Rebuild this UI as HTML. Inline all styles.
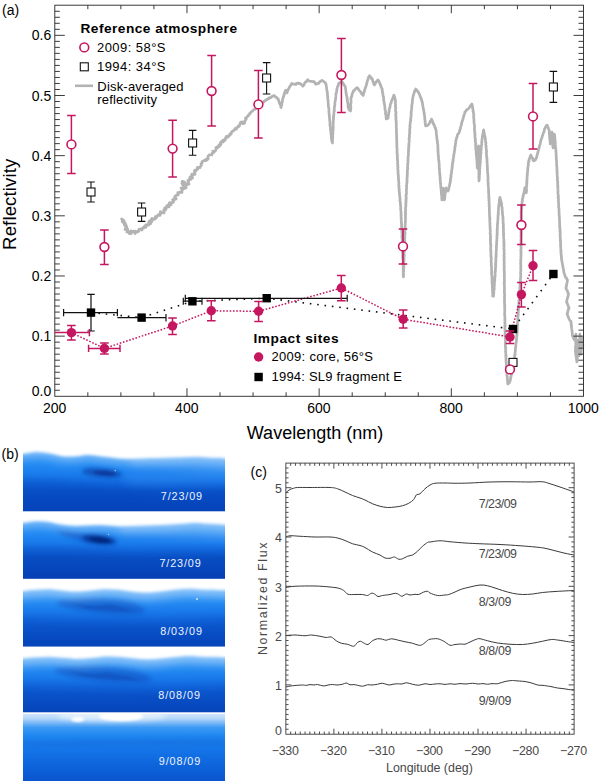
<!DOCTYPE html>
<html><head><meta charset="utf-8"><title>Figure</title>
<style>
html,body{margin:0;padding:0;background:#fff;}
body{width:600px;height:781px;position:relative;overflow:hidden;font-family:"Liberation Sans",sans-serif;}
</style></head><body>
<svg width="600" height="781" viewBox="0 0 600 781" style="position:absolute;left:0;top:0">
<defs>
<linearGradient id="gP1" gradientUnits="userSpaceOnUse" x1="0" y1="450" x2="0" y2="512">
  <stop offset="0" stop-color="#56a8f7"/><stop offset="0.1" stop-color="#2c92f5"/><stop offset="0.26" stop-color="#2088f2"/><stop offset="0.42" stop-color="#1a7bec"/><stop offset="0.55" stop-color="#1267dd"/><stop offset="0.66" stop-color="#0c56cd"/><stop offset="0.82" stop-color="#0a4cc4"/><stop offset="1" stop-color="#0844b9"/>
</linearGradient>
<linearGradient id="gP2" gradientUnits="userSpaceOnUse" x1="0" y1="518" x2="0" y2="579">
  <stop offset="0" stop-color="#56a8f7"/><stop offset="0.1" stop-color="#2c92f5"/><stop offset="0.26" stop-color="#2088f2"/><stop offset="0.42" stop-color="#1a7bec"/><stop offset="0.55" stop-color="#1267dd"/><stop offset="0.66" stop-color="#0c56cd"/><stop offset="0.82" stop-color="#0a4cc4"/><stop offset="1" stop-color="#0844b9"/>
</linearGradient>
<linearGradient id="gP3" gradientUnits="userSpaceOnUse" x1="0" y1="586" x2="0" y2="647">
  <stop offset="0" stop-color="#5aaaf7"/><stop offset="0.1" stop-color="#3397f5"/><stop offset="0.26" stop-color="#238af2"/><stop offset="0.42" stop-color="#1a7aeb"/><stop offset="0.56" stop-color="#1368de"/><stop offset="0.7" stop-color="#0d58cf"/><stop offset="0.85" stop-color="#0a4dc5"/><stop offset="1" stop-color="#0845ba"/>
</linearGradient>
<linearGradient id="gP4" gradientUnits="userSpaceOnUse" x1="0" y1="653" x2="0" y2="713">
  <stop offset="0" stop-color="#5aaaf7"/><stop offset="0.1" stop-color="#3397f5"/><stop offset="0.26" stop-color="#238af2"/><stop offset="0.42" stop-color="#1a7aeb"/><stop offset="0.56" stop-color="#1368de"/><stop offset="0.7" stop-color="#0d58cf"/><stop offset="0.85" stop-color="#0a4dc5"/><stop offset="1" stop-color="#0845ba"/>
</linearGradient>
<linearGradient id="gP5" gradientUnits="userSpaceOnUse" x1="0" y1="714" x2="0" y2="781">
  <stop offset="0" stop-color="#cfe6fc"/><stop offset="0.07" stop-color="#b2d6fa"/><stop offset="0.13" stop-color="#7cbaf7"/><stop offset="0.2" stop-color="#3d9af4"/><stop offset="0.32" stop-color="#2088f1"/><stop offset="0.55" stop-color="#1474e7"/><stop offset="0.8" stop-color="#0d62d9"/><stop offset="1" stop-color="#0a55cd"/>
</linearGradient>
<filter id="b1" x="-20%" y="-50%" width="140%" height="200%"><feGaussianBlur stdDeviation="1.2"/></filter>
<filter id="bl" x="-10%" y="-60%" width="120%" height="220%"><feGaussianBlur stdDeviation="1.6"/></filter>
<filter id="bh" x="-10%" y="-60%" width="120%" height="220%"><feGaussianBlur stdDeviation="4"/></filter>
<filter id="b2" x="-30%" y="-80%" width="160%" height="260%"><feGaussianBlur stdDeviation="2.2"/></filter>
<filter id="b4" x="-30%" y="-80%" width="160%" height="260%"><feGaussianBlur stdDeviation="5"/></filter>
<clipPath id="cp1"><rect x="23" y="444" width="202" height="67.3"/></clipPath>
<clipPath id="cp2"><rect x="23" y="514" width="202" height="64.8"/></clipPath>
<clipPath id="cp3"><rect x="23" y="582" width="202" height="64.6"/></clipPath>
<clipPath id="cp4"><rect x="23" y="649" width="202" height="63.2"/></clipPath>
<clipPath id="cp5"><rect x="23" y="714" width="202" height="67"/></clipPath>

</defs>
<rect width="600" height="781" fill="#fff"/>
<polyline points="121.6,219.0 122.5,219.5 123.4,219.9 122.2,221.4 124.3,221.2 123.2,222.6 124.1,223.1 125.4,223.3 124.3,224.7 126.0,224.8 125.1,226.1 126.5,226.3 126.7,227.1 126.0,228.2 125.0,229.4 127.4,228.6 127.7,229.3 127.2,230.8 126.9,232.1 128.3,231.7 129.2,231.8 129.4,233.7 130.8,230.8 131.0,233.6 132.1,231.9 132.7,231.3 133.4,231.2 134.2,231.8 135.1,233.5 135.4,231.1 136.6,232.2 137.4,232.2 137.9,231.1 138.8,231.3 138.8,229.4 139.6,229.0 140.6,229.1 142.0,230.0 142.0,228.8 142.4,228.0 143.6,228.2 143.9,227.4 144.1,226.5 145.8,227.3 146.2,226.5 145.7,224.8 147.0,225.2 147.5,224.6 148.8,225.0 149.1,224.1 148.6,222.5 150.8,223.7 149.4,221.0 150.6,221.3 151.9,221.6 151.1,219.6 152.4,220.0 152.0,218.3 153.9,219.4 154.7,219.2 154.8,218.2 156.1,218.4 155.4,216.5 156.8,217.0 157.1,216.2 157.6,215.7 157.9,214.9 159.3,215.5 160.1,215.4 159.8,213.6 160.8,213.7 160.3,211.6 162.1,212.9 162.7,212.3 164.0,212.9 164.3,211.8 163.7,209.9 164.5,209.7 165.7,209.9 164.8,207.8 166.3,208.4 166.3,207.2 166.4,206.6 166.7,206.0 169.0,206.9 167.8,205.0 168.6,204.7 169.4,204.4 171.1,204.9 169.4,202.7 170.9,202.9 171.6,202.5 172.9,202.7 173.2,202.0 173.7,201.5 172.6,199.8 173.4,199.5 173.7,198.8 175.5,199.3 176.2,198.9 174.6,196.7 175.2,196.2 175.9,195.7 176.4,195.2 177.5,195.2 178.2,194.8 177.9,193.6 177.8,192.5 179.3,192.8 179.7,192.2 180.6,192.1 182.0,192.5 181.9,191.4 182.0,190.5 182.5,189.9 182.8,189.2 181.0,188.2 183.7,187.9 183.4,187.2 183.8,186.5 183.7,185.8 182.6,184.9 182.7,184.2 181.9,183.4 183.7,183.0 182.1,182.0 182.2,181.3 184.5,182.0 184.8,182.7 184.4,183.5 185.4,184.0 185.7,184.7 185.4,185.5 185.7,186.1 185.1,187.0 186.3,187.5 183.9,188.7 185.6,188.0 184.7,186.7 185.3,186.2 185.9,185.6 186.3,185.0 186.0,184.0 188.3,184.4 189.0,184.0 188.0,182.6 188.5,182.0 187.8,180.7 188.3,180.2 189.2,179.9 189.4,179.1 191.2,179.4 189.9,177.8 190.0,177.0 192.6,177.8 191.9,176.6 191.4,175.4 192.7,175.4 191.9,174.0 193.4,174.2 194.9,174.3 195.0,173.5 195.0,172.7 194.3,171.4 194.9,171.0 194.8,170.1 196.6,170.4 196.6,169.5 197.6,169.4 197.2,168.0 197.4,167.3 199.1,167.8 200.0,167.6 200.2,166.8 200.6,166.1 201.1,165.6 201.5,164.9 201.0,163.5 202.0,163.5 202.2,162.7 202.1,161.6 202.6,161.1 203.6,161.0 204.1,160.4 205.4,160.7 206.3,160.6 205.9,159.2 207.3,159.6 207.9,159.2 208.3,158.6 207.8,157.1 208.0,156.3 208.5,155.8 209.0,155.3 209.5,154.8 210.7,155.0 211.7,154.9 212.1,154.3 212.0,153.2 212.8,153.0 213.5,152.7 212.8,151.0 214.3,151.5 215.2,151.2 215.5,150.4 215.9,149.8 216.0,148.8 215.9,147.7 217.5,148.0 217.2,146.8 218.5,146.8 219.3,146.6 218.8,145.1 219.3,144.6 220.7,144.9 220.9,144.0 220.5,142.6 220.9,142.0 221.5,141.5 223.1,142.1 223.5,141.5 223.0,140.0 224.5,140.5 225.2,140.2 225.2,139.2 225.3,138.3 226.1,138.1 226.0,137.0 226.3,136.3 228.2,137.2 228.3,136.2 228.7,135.5 229.8,135.5 229.7,134.3 230.8,134.4 231.3,133.8 231.1,132.4 231.7,132.0 232.3,131.5 232.8,130.9 233.8,130.8 234.0,129.9 234.8,129.5 235.0,128.6 236.5,129.1 236.3,127.9 236.9,127.5 237.6,127.1 238.5,126.9 238.4,125.8 239.5,125.9 239.5,124.8 240.0,124.3 240.5,123.8 240.4,122.7 241.4,122.7 241.6,121.9 243.1,122.2 243.0,123.7 244.3,123.4 244.2,123.1 244.8,122.6 244.8,121.8 244.7,121.1 245.3,120.5 245.6,119.9 246.2,119.3 245.4,118.3 246.5,117.9 246.6,117.1 247.1,116.5 248.1,116.3 248.2,115.5 248.7,114.9 249.4,114.4 250.0,114.0 249.9,113.0 250.7,112.6 251.1,112.0 251.7,111.5 252.5,111.2 252.8,110.5 253.5,110.0 254.0,109.5 255.0,109.4 255.3,108.7 256.0,108.4 256.7,107.9 256.7,106.8 257.5,106.6 258.4,106.4 258.8,105.9 258.9,104.8 259.4,104.3 260.3,104.2 260.7,103.6 261.3,103.3 261.8,102.7 262.6,102.7 263.3,102.3 263.9,102.0 264.1,101.1 265.0,101.0 265.5,100.5 265.8,99.8 266.8,99.9 267.5,99.5 267.9,98.6 268.9,98.7 269.3,97.8 270.0,97.5 270.9,97.6 271.5,97.1 271.9,96.3 272.6,96.2 273.3,95.9 273.9,95.5 274.7,95.9 275.2,96.5 275.6,97.2 276.5,97.3 276.8,98.1 277.5,98.5 278.2,98.7 278.4,99.7 278.5,100.5 278.9,101.1 279.3,101.8 279.2,102.7 279.6,103.3 279.8,104.1 280.4,104.7 280.5,105.4 280.8,106.1 280.7,106.9 281.1,107.6 281.0,106.8 281.3,106.1 281.7,105.3 281.8,104.6 281.7,103.7 281.8,103.0 282.3,102.3 282.3,101.6 282.5,100.9 282.4,100.1 282.5,99.4 282.9,98.7 283.0,98.0 283.0,97.3 283.6,96.7 283.7,96.0 284.0,95.4 283.9,94.6 284.5,94.1 284.3,93.3 284.9,92.7 284.9,92.0 285.1,91.3 285.4,90.7 285.8,90.1 286.1,90.7 286.5,91.4 286.6,92.3 287.1,92.9 287.1,92.2 287.4,91.5 287.7,90.8 288.0,90.1 288.3,89.4 288.6,88.7 289.1,88.0 289.3,87.3 289.9,86.7 290.1,86.0 290.6,85.4 290.9,84.7 291.5,84.1 291.8,83.4 292.7,84.1 293.5,84.1 294.3,84.0 295.0,84.5 295.9,84.5 296.3,83.4 297.4,83.6 298.0,82.9 298.8,83.2 299.4,83.8 300.3,83.6 301.0,84.0 301.4,84.6 301.8,85.2 302.6,85.4 302.8,86.2 303.5,85.5 303.9,84.8 304.2,84.2 304.5,83.6 304.8,82.9 305.3,82.3 305.8,81.8 306.6,81.6 306.9,80.9 307.3,80.3 307.8,79.8 308.6,80.7 309.3,81.1 310.2,81.3 311.1,81.3 311.8,81.3 312.5,81.5 313.3,81.8 314.1,81.6 314.5,82.5 315.1,82.9 315.3,83.7 315.8,84.2 317.0,83.9 317.9,83.3 318.9,83.3 319.2,82.4 319.9,81.9 320.4,81.2 321.3,80.9 322.0,80.4 322.7,80.9 323.5,81.3 324.0,82.0 324.8,82.2 325.2,82.9 325.8,83.3 325.8,84.2 326.1,84.9 326.3,85.6 326.3,86.4 326.5,87.1 326.5,87.8 326.7,88.6 326.7,89.3 326.9,90.0 327.0,90.7 327.0,91.4 327.3,92.1 327.4,92.8 327.2,93.6 327.6,94.3 327.4,95.0 327.5,95.7 327.8,96.4 327.6,97.2 327.6,97.9 327.8,98.6 327.8,99.3 327.9,100.0 328.2,100.7 328.1,101.4 328.2,102.1 328.1,102.8 328.2,103.5 328.2,104.2 328.4,104.9 328.3,105.7 328.5,106.4 328.5,107.1 328.8,107.8 328.9,108.5 328.9,109.2 328.9,109.9 329.0,110.6 328.8,111.3 329.0,112.0 329.0,112.7 329.1,113.4 329.1,114.1 329.2,114.8 329.5,115.5 329.2,116.2 329.3,116.9 329.5,117.6 329.5,118.4 329.5,119.1 329.8,119.7 329.6,120.5 329.9,121.2 330.0,121.9 330.0,122.6 329.8,123.3 330.1,124.0 330.0,124.7 329.9,125.5 330.2,126.2 330.3,126.9 330.4,127.6 330.4,128.4 330.4,129.1 330.5,129.8 330.6,130.6 330.9,131.3 330.9,132.0 331.0,132.7 330.8,133.5 331.1,134.2 331.1,134.9 331.4,135.6 331.4,136.3 331.4,137.1 331.3,137.8 331.4,138.6 331.5,139.3 331.7,140.0 331.8,140.8 332.0,141.5 332.1,142.2 332.5,143.0 332.5,142.3 332.3,141.5 332.6,140.8 332.6,140.1 332.3,139.4 332.5,138.7 332.7,138.0 332.8,137.2 332.6,136.5 332.6,135.8 332.6,135.0 333.0,134.3 332.7,133.6 332.9,132.9 332.7,132.2 332.9,131.4 333.2,130.7 332.8,130.0 333.2,129.3 333.1,128.6 333.3,127.9 333.2,127.2 333.0,126.5 333.3,125.8 333.2,125.1 333.0,124.4 333.1,123.7 333.3,123.0 333.3,122.3 333.3,121.6 333.2,120.9 333.4,120.2 333.4,119.5 333.6,118.8 333.3,118.1 333.6,117.4 333.7,116.7 333.4,116.0 333.9,115.3 333.8,114.6 334.0,113.9 333.8,113.1 333.9,112.4 334.0,111.7 334.4,111.0 334.3,110.2 334.2,109.5 334.3,108.8 334.4,108.0 334.3,107.3 334.4,106.6 334.8,105.9 334.7,105.2 335.0,104.5 334.8,103.7 334.9,103.0 335.1,102.3 335.0,101.5 335.2,100.7 335.5,100.0 335.6,99.3 335.6,98.5 335.6,97.8 335.8,97.0 335.9,96.3 335.9,95.5 336.0,94.8 335.8,94.0 336.2,93.3 336.3,92.6 336.6,91.9 336.7,91.2 336.7,90.5 336.7,89.8 337.2,89.1 337.0,88.4 337.3,87.7 337.4,87.0 337.7,86.3 338.1,85.7 338.5,85.1 338.4,84.3 338.8,83.7 338.9,83.0 339.8,82.8 340.5,82.4 341.1,81.9 341.9,81.7 342.6,82.5 342.7,83.3 343.3,83.7 343.8,84.2 343.9,85.0 344.3,85.6 345.0,86.0 345.3,86.7 345.4,87.4 345.5,88.1 345.5,88.8 345.8,89.5 345.8,90.2 345.9,90.9 345.9,91.7 345.9,92.4 346.1,93.1 346.3,93.8 346.4,94.5 346.5,95.2 346.7,95.9 346.8,96.6 347.1,97.3 347.1,98.0 346.9,98.8 347.4,99.4 347.3,100.2 347.4,100.9 347.4,101.7 347.8,102.4 347.8,103.1 348.0,103.9 348.0,104.6 348.1,105.3 348.0,106.1 348.1,106.8 348.2,107.6 348.7,108.2 348.8,109.0 349.0,109.6 349.4,110.2 350.1,110.5 350.6,111.0 350.4,110.3 350.6,109.6 350.8,108.8 350.8,108.1 350.9,107.4 350.9,106.7 350.6,105.9 350.6,105.2 350.7,104.5 350.8,103.8 350.9,103.1 351.1,102.3 351.0,101.6 351.0,100.9 351.0,100.2 350.9,99.4 351.0,98.7 350.8,98.0 351.3,97.4 351.3,96.6 351.9,96.1 352.0,95.4 352.0,94.6 352.2,93.9 352.4,93.3 352.8,92.7 353.1,92.0 353.3,91.2 353.8,90.6 354.5,90.1 355.0,89.5 355.6,88.8 356.2,88.1 357.0,87.7 357.7,88.0 358.1,88.6 358.5,89.3 358.8,90.1 359.4,90.5 359.8,91.2 360.4,91.6 361.0,92.2 361.4,92.9 361.5,93.8 362.0,94.3 362.7,94.9 363.2,95.5 363.2,94.9 363.5,94.3 363.6,93.5 363.8,92.8 364.1,92.2 364.5,91.5 364.4,90.8 364.5,90.1 364.9,89.4 365.1,88.7 365.4,88.1 365.4,87.3 365.9,86.7 366.1,86.0 366.2,85.3 366.3,84.6 366.8,84.0 366.7,83.2 367.1,82.5 367.1,81.8 367.3,81.1 367.7,80.4 367.7,79.7 368.2,79.1 368.3,78.3 368.4,77.6 368.7,76.9 369.1,76.3 369.5,75.6 369.6,76.3 370.4,76.6 370.8,77.3 371.3,77.8 371.3,78.6 372.2,78.9 372.5,79.6 372.7,80.3 372.8,81.0 372.9,81.7 373.2,82.4 373.5,83.0 373.6,83.8 373.9,84.4 374.5,85.0 374.7,84.2 375.4,83.6 375.7,82.8 375.8,81.9 376.6,81.6 376.9,80.9 377.4,80.4 377.9,79.9 378.6,80.6 379.0,81.3 379.3,82.1 379.7,82.8 379.8,83.7 380.4,84.2 380.3,85.0 380.9,85.6 381.1,86.3 381.1,87.0 381.4,87.7 381.8,88.3 382.2,88.9 382.1,89.7 382.3,90.4 382.2,91.2 382.6,91.8 382.6,92.6 382.5,93.3 383.0,94.0 383.0,94.7 382.9,95.4 383.0,96.2 383.5,96.8 383.6,97.5 383.7,98.3 383.4,99.0 383.8,99.7 383.7,100.4 383.8,101.2 384.1,101.8 384.3,102.6 384.1,103.3 384.4,104.0 384.6,104.7 384.5,105.4 384.8,106.1 384.9,106.8 385.1,107.5 384.9,108.3 384.9,109.0 385.1,109.7 385.1,110.5 385.6,111.1 385.6,111.8 385.6,112.6 385.4,113.3 385.5,114.0 385.9,114.7 386.0,115.4 386.0,116.1 386.1,116.9 386.0,117.6 386.4,118.3 386.3,119.0 387.3,118.7 388.1,118.2 388.2,117.3 388.3,116.6 388.3,115.9 388.4,115.2 388.5,114.5 388.8,113.8 388.6,113.0 388.8,112.3 389.2,111.7 389.1,110.9 389.1,110.2 389.2,109.5 389.6,108.8 389.6,108.1 390.0,107.4 390.0,106.7 390.2,106.0 390.1,105.3 390.3,104.6 390.5,103.9 390.9,103.3 391.2,102.7 391.3,102.0 391.4,101.3 391.7,100.7 392.1,100.0 392.4,99.3 392.7,98.6 393.0,97.9 393.2,97.2 393.3,96.4 393.9,95.8 393.9,95.0 394.2,95.7 394.4,96.4 394.5,97.2 394.9,97.8 395.0,98.5 395.2,99.3 395.5,100.0 395.2,100.7 395.3,101.4 395.5,102.2 395.5,102.9 395.2,103.6 395.5,104.3 395.6,105.0 395.4,105.8 395.5,106.5 395.4,107.2 395.8,107.9 395.6,108.6 395.5,109.4 395.5,110.1 395.5,110.8 395.9,111.5 395.9,112.2 396.0,113.0 396.0,113.7 395.7,114.4 395.9,115.1 395.7,115.8 396.0,116.6 395.8,117.3 396.0,118.0 396.1,118.7 395.9,119.4 395.9,120.1 396.3,120.8 396.1,121.6 396.1,122.3 396.3,123.0 396.2,123.7 396.4,124.4 396.3,125.1 396.3,125.8 396.2,126.5 396.2,127.2 396.4,128.0 396.5,128.7 396.4,129.4 396.3,130.1 396.5,130.8 396.5,131.5 396.6,132.2 396.3,132.9 396.5,133.6 396.7,134.3 396.7,135.1 396.6,135.8 396.6,136.5 396.5,137.2 396.8,137.9 396.8,138.6 396.6,139.3 396.7,140.0 396.8,140.8 396.8,141.5 396.6,142.2 396.9,142.9 396.8,143.6 396.9,144.3 396.9,145.0 396.7,145.7 396.7,146.5 397.0,147.2 397.1,147.9 396.9,148.6 397.1,149.3 397.2,150.0 396.9,150.7 397.1,151.4 397.0,152.1 397.2,152.9 397.0,153.6 397.2,154.3 397.4,155.0 397.5,155.7 397.3,156.4 397.3,157.1 397.2,157.9 397.6,158.6 397.4,159.3 397.6,160.0 397.5,160.7 397.7,161.4 397.7,162.1 397.6,162.9 397.5,163.6 397.9,164.3 397.8,165.0 397.7,165.7 397.6,166.4 398.0,167.1 398.0,167.8 397.7,168.6 397.8,169.3 398.0,170.0 398.2,170.7 397.9,171.4 398.2,172.2 398.0,172.9 398.1,173.6 398.1,174.3 398.4,175.0 398.2,175.8 398.5,176.5 398.4,177.2 398.3,177.9 398.3,178.6 398.7,179.4 398.7,180.1 398.6,180.8 398.6,181.5 398.7,182.2 398.9,183.0 398.9,183.7 398.7,184.4 398.7,185.1 399.1,185.8 398.9,186.6 398.9,187.3 399.2,188.0 398.9,188.7 399.3,189.4 399.1,190.1 399.2,190.8 399.2,191.5 399.4,192.2 399.4,192.9 399.4,193.6 399.6,194.4 399.5,195.1 399.7,195.8 399.7,196.5 400.0,197.2 399.8,197.9 399.9,198.6 400.1,199.3 399.9,200.0 399.9,200.7 400.1,201.4 400.3,202.1 400.2,202.8 400.5,203.5 400.5,204.2 400.4,204.9 400.6,205.6 400.6,206.4 400.6,207.1 400.8,207.7 400.6,208.5 400.9,209.2 400.7,209.9 400.8,210.6 400.9,211.3 401.2,212.0 401.0,212.7 401.1,213.4 400.9,214.1 401.3,214.8 401.0,215.5 401.0,216.2 401.1,216.9 401.1,217.6 401.4,218.3 401.1,219.0 401.3,219.7 401.2,220.4 401.2,221.1 401.6,221.8 401.3,222.5 401.3,223.2 401.7,223.9 401.6,224.6 401.5,225.3 401.7,226.0 401.5,226.8 401.7,227.4 401.6,228.2 401.9,228.8 401.7,229.6 401.6,230.3 401.9,231.0 401.9,231.7 401.9,232.4 402.0,233.1 402.1,233.8 402.1,234.5 402.1,235.2 401.8,235.9 402.0,236.6 401.9,237.3 402.2,238.0 402.0,238.7 402.3,239.4 402.2,240.1 402.2,240.8 402.3,241.5 402.1,242.2 402.3,242.9 402.3,243.6 402.2,244.3 402.6,245.0 402.2,245.7 402.4,246.4 402.5,247.1 402.4,247.8 402.6,248.6 402.3,249.3 402.5,250.0 402.6,250.7 402.5,251.4 402.6,252.1 402.8,252.8 402.6,253.5 402.9,254.2 402.6,255.0 402.8,255.7 402.7,256.4 402.6,257.1 402.8,257.8 402.8,258.5 402.9,259.2 403.1,259.9 403.1,260.6 403.1,261.4 402.9,262.1 403.0,262.8 403.0,263.5 402.8,264.2 403.2,264.9 403.2,265.6 403.0,266.3 403.3,267.0 403.3,267.7 403.2,268.5 403.3,269.2 403.2,269.9 403.3,270.6 403.2,271.3 403.2,272.0 403.4,272.7 403.2,273.4 403.3,274.2 403.5,274.9 403.2,275.6 403.5,276.3 403.5,277.0 403.3,276.3 403.5,275.6 403.6,274.9 403.6,274.2 403.5,273.4 403.4,272.7 403.4,272.0 403.7,271.3 403.6,270.6 403.6,269.9 403.7,269.2 403.7,268.5 403.9,267.8 403.8,267.0 403.7,266.3 404.0,265.6 403.6,264.9 403.9,264.2 403.8,263.5 403.8,262.8 403.7,262.1 404.1,261.4 403.8,260.6 404.0,259.9 404.2,259.2 403.9,258.5 403.9,257.8 404.1,257.1 404.1,256.4 404.2,255.7 404.3,255.0 404.0,254.2 404.1,253.5 404.1,252.8 404.1,252.1 404.4,251.4 404.4,250.7 404.4,250.0 404.1,249.3 404.5,248.6 404.5,247.8 404.4,247.1 404.6,246.4 404.5,245.7 404.4,245.0 404.4,244.3 404.4,243.6 404.4,242.9 404.5,242.2 404.7,241.5 404.7,240.8 404.8,240.1 404.8,239.4 404.6,238.7 404.8,238.0 404.7,237.3 404.9,236.6 404.8,235.9 404.7,235.2 404.9,234.5 405.1,233.8 404.8,233.0 405.1,232.3 404.7,231.6 404.9,230.9 404.9,230.2 405.1,229.5 405.2,228.8 405.2,228.1 405.0,227.4 405.3,226.7 405.1,226.0 405.0,225.3 405.4,224.6 405.3,223.9 405.3,223.2 405.3,222.5 405.5,221.8 405.3,221.1 405.5,220.4 405.4,219.7 405.5,219.0 405.4,218.3 405.5,217.6 405.5,216.9 405.4,216.2 405.4,215.5 405.6,214.8 405.4,214.1 405.7,213.4 405.4,212.7 405.4,211.9 405.5,211.2 405.8,210.6 405.6,209.8 405.5,209.1 405.5,208.4 405.5,207.7 405.8,207.0 405.8,206.3 405.9,205.6 405.9,204.9 405.7,204.2 405.9,203.5 405.8,202.8 406.1,202.1 406.1,201.4 406.1,200.7 405.8,200.0 406.2,199.3 406.2,198.6 406.3,197.9 406.0,197.2 406.1,196.5 406.0,195.8 406.0,195.1 406.4,194.4 406.4,193.7 406.4,193.0 406.5,192.3 406.5,191.6 406.4,190.9 406.3,190.2 406.4,189.5 406.7,188.8 406.5,188.1 406.6,187.4 406.6,186.7 406.5,186.0 406.6,185.3 406.7,184.6 406.9,183.9 406.8,183.2 406.8,182.5 407.1,181.8 406.9,181.1 407.1,180.4 407.1,179.7 406.9,178.9 407.1,178.2 407.1,177.5 407.3,176.8 407.1,176.1 407.3,175.4 407.3,174.7 407.2,174.0 407.5,173.3 407.2,172.6 407.5,171.9 407.3,171.2 407.3,170.5 407.4,169.8 407.7,169.1 407.8,168.4 407.4,167.7 407.6,167.0 407.7,166.3 407.8,165.6 407.6,164.9 407.8,164.2 407.8,163.5 408.0,162.8 407.8,162.1 408.1,161.4 407.9,160.7 407.9,160.0 408.1,159.3 408.1,158.6 408.0,157.9 408.2,157.2 408.0,156.4 408.4,155.8 408.4,155.0 408.5,154.3 408.4,153.6 408.4,152.9 408.4,152.2 408.5,151.5 408.7,150.8 408.4,150.1 408.8,149.4 408.5,148.7 408.6,148.0 408.7,147.2 409.0,146.6 408.8,145.8 408.8,145.1 409.1,144.4 408.8,143.7 409.0,143.0 409.1,142.3 409.2,141.6 409.2,140.9 409.2,140.2 409.1,139.5 409.2,138.7 409.1,138.0 409.5,137.3 409.4,136.6 409.5,135.9 409.3,135.2 409.5,134.5 409.7,133.8 409.6,133.1 409.5,132.4 409.7,131.7 409.9,131.0 409.6,130.2 409.7,129.5 409.7,128.8 410.0,128.1 410.1,127.4 409.8,126.7 409.9,126.0 410.0,125.3 410.1,124.6 410.2,123.9 410.1,123.1 410.3,122.4 410.3,121.7 410.7,121.0 410.7,120.3 410.5,119.6 410.9,118.9 410.6,118.1 410.8,117.4 411.1,116.7 411.1,116.0 411.2,115.3 411.1,114.6 411.0,113.9 411.3,113.2 411.1,112.5 411.2,111.8 411.4,111.1 411.3,110.3 411.5,109.6 411.7,109.0 411.7,108.2 411.7,107.5 411.8,106.8 411.8,106.1 411.7,105.4 412.0,104.7 412.0,104.0 412.2,103.3 412.4,102.6 412.2,101.8 412.4,101.1 412.6,100.4 412.5,99.6 412.5,98.9 412.8,98.2 413.0,97.5 413.0,96.7 413.1,96.0 413.4,95.4 413.6,94.6 413.8,93.9 414.0,93.2 414.2,92.5 414.6,91.8 414.6,91.0 415.0,90.4 415.5,89.7 415.7,89.0 416.0,89.6 416.7,90.0 417.1,90.7 417.6,91.3 418.0,91.9 418.6,92.4 418.9,93.1 419.1,93.7 419.6,94.3 419.7,95.0 419.9,95.7 420.3,96.3 420.5,97.0 420.5,97.7 421.2,98.3 421.2,99.0 421.7,99.6 421.6,100.4 421.8,101.1 422.1,101.7 422.4,102.4 422.4,103.2 422.5,103.9 422.6,104.7 422.8,105.4 422.9,106.1 422.9,106.9 423.2,107.6 423.4,108.3 423.3,109.1 423.7,109.8 423.7,110.5 423.9,111.3 423.9,112.0 424.2,112.7 424.0,113.4 424.3,114.1 424.5,114.8 424.5,115.5 424.5,116.2 424.8,116.9 424.7,117.6 424.8,118.3 424.7,119.0 424.9,119.7 425.1,120.4 425.2,121.1 425.0,121.8 425.0,122.5 425.3,123.2 425.5,123.9 425.3,124.6 425.6,125.3 425.7,126.0 426.2,125.4 427.1,125.8 427.8,125.2 428.4,124.6 429.0,124.0 429.4,123.3 429.6,122.5 430.2,122.0 430.3,121.1 430.8,120.5 431.2,119.8 431.5,119.1 431.7,119.7 432.1,120.4 432.3,121.2 432.8,121.8 432.8,122.6 433.4,123.3 433.4,124.1 434.0,124.6 434.2,125.3 434.5,126.0 434.7,126.7 435.1,127.3 435.4,127.9 435.4,128.7 435.8,129.3 436.1,130.0 436.2,130.7 436.2,131.4 436.3,132.1 436.3,132.8 436.3,133.5 436.5,134.2 436.4,134.9 436.5,135.6 436.9,136.3 436.7,137.0 436.7,137.7 436.8,138.4 437.2,139.1 437.0,139.8 437.1,140.5 437.5,141.2 437.6,141.9 437.2,142.6 437.5,143.3 437.7,144.0 437.8,144.7 437.9,145.4 437.9,146.1 437.7,146.9 437.9,147.6 438.0,148.3 437.8,149.0 437.9,149.7 438.2,150.4 437.9,151.2 438.1,151.9 438.1,152.6 438.2,153.3 438.1,154.0 438.2,154.7 438.3,155.4 438.6,156.1 438.4,156.9 438.5,157.6 438.5,158.3 438.7,159.0 438.5,159.7 438.7,160.4 438.9,161.1 439.0,161.8 439.1,162.6 439.0,163.3 439.2,164.0 439.1,164.7 439.3,165.4 439.2,166.1 439.2,166.9 439.3,167.6 439.2,168.3 439.6,169.0 439.3,169.7 439.5,170.4 439.5,171.1 439.6,171.9 439.5,172.6 439.8,173.3 439.8,174.0 439.7,174.7 440.1,175.4 439.9,176.1 440.0,176.9 440.3,177.6 440.1,178.3 440.1,179.0 440.1,179.7 440.4,180.4 440.2,181.2 440.4,181.9 440.5,182.6 440.4,183.3 440.8,184.0 440.6,184.7 440.7,185.5 440.9,186.2 440.7,186.9 441.0,187.6 441.0,188.4 441.0,189.1 441.0,189.8 441.3,190.5 441.3,191.3 441.3,192.0 441.3,192.7 441.3,193.5 441.6,194.2 441.4,194.9 441.7,195.6 441.7,196.4 441.8,197.1 441.8,197.8 441.7,198.6 441.9,199.3 441.9,200.0 442.0,199.3 442.0,198.6 442.1,197.9 442.3,197.2 442.4,196.5 442.5,195.8 442.2,195.0 442.6,194.4 442.7,193.7 442.6,192.9 442.5,192.2 442.6,191.5 442.6,190.8 442.7,190.1 443.1,189.4 443.0,188.7 443.1,188.0 443.0,188.7 443.0,189.4 443.2,190.1 443.3,190.8 443.4,191.5 443.4,192.2 443.5,192.9 443.6,193.7 443.9,194.3 443.8,195.1 443.9,195.8 443.9,196.5 444.2,197.2 444.3,197.9 444.4,198.6 444.2,199.3 444.2,200.0 444.6,199.3 444.5,198.6 444.8,197.9 444.9,197.2 444.9,196.5 444.9,195.8 445.0,195.0 445.1,194.3 445.2,193.6 445.3,192.9 445.5,192.2 445.7,191.6 445.4,190.8 445.7,190.1 445.6,189.4 445.7,188.7 446.1,188.0 446.4,188.6 446.6,189.3 447.2,189.8 447.8,190.2 448.1,191.0 448.2,190.3 448.6,189.7 448.8,189.0 448.8,188.2 449.0,187.5 449.0,186.8 449.5,186.1 449.5,185.4 449.6,184.7 449.8,183.9 449.9,183.3 450.3,182.6 450.1,181.9 450.5,181.2 450.3,180.5 450.7,179.8 450.5,179.1 450.5,178.4 450.9,177.8 450.8,177.0 451.1,176.4 450.9,175.6 450.9,174.9 451.3,174.3 451.4,173.6 451.5,172.9 451.6,172.2 451.4,171.5 451.7,170.8 451.8,170.1 451.8,169.4 452.1,168.7 451.9,168.0 452.3,167.3 452.3,166.6 452.1,165.9 452.2,165.2 452.6,164.5 452.7,163.8 452.5,163.1 452.7,162.4 453.0,161.7 452.9,161.0 453.3,160.3 453.2,159.6 453.1,158.9 453.3,158.2 453.5,157.5 453.6,156.8 453.8,156.1 453.6,155.4 454.0,154.7 453.9,154.0 454.2,153.3 454.3,152.6 454.3,151.9 454.4,151.2 454.6,150.5 454.8,149.8 454.8,149.1 454.8,148.4 454.8,147.7 454.8,147.0 455.3,146.3 455.3,145.6 455.4,144.9 455.3,144.2 455.5,143.5 455.8,142.8 455.8,142.1 455.8,141.4 455.8,140.7 456.0,140.0 456.4,139.3 456.4,138.6 456.7,137.9 456.9,137.2 457.2,136.5 457.4,135.8 457.4,135.0 457.8,134.2 458.4,133.6 459.0,133.0 459.2,132.3 459.5,131.7 459.7,131.0 459.6,130.2 460.1,129.6 460.3,128.9 460.5,128.2 460.5,127.5 460.6,126.8 461.0,126.2 461.2,125.5 461.3,124.8 461.6,124.1 461.6,123.4 461.6,122.6 462.0,122.0 462.3,121.3 462.3,120.5 462.8,119.9 463.0,119.2 463.0,118.4 463.3,117.7 463.6,117.0 463.7,116.3 463.8,115.5 464.0,114.8 464.5,114.2 464.7,113.5 464.8,112.7 464.8,111.9 465.6,111.5 466.1,110.9 466.4,110.0 467.0,109.5 467.9,109.2 468.5,108.7 469.0,108.0 469.4,107.4 469.9,106.9 470.1,106.2 470.6,105.6 471.0,105.0 471.7,104.6 471.9,104.0 472.1,104.7 472.3,105.4 472.3,106.1 472.6,106.8 472.8,107.5 472.5,108.3 472.9,109.0 473.1,109.7 473.0,110.4 473.0,111.2 473.4,111.8 473.3,112.6 473.6,113.3 473.6,114.0 473.8,114.7 473.9,115.4 473.5,116.1 473.6,116.8 473.8,117.5 473.8,118.3 474.0,119.0 473.8,119.7 474.0,120.4 473.9,121.1 474.0,121.8 474.0,122.5 474.0,123.2 474.3,123.9 474.5,124.6 474.4,125.3 474.5,126.1 474.6,126.8 474.6,127.5 474.5,128.2 474.4,128.9 474.6,129.6 474.5,130.3 474.5,131.0 474.9,131.7 474.7,132.5 474.9,133.2 475.0,133.9 474.7,134.6 475.1,135.3 475.0,136.0 475.0,136.7 474.9,137.4 475.1,138.1 475.3,138.8 475.3,139.5 475.5,140.2 475.2,141.0 475.2,141.7 475.6,142.4 475.7,143.1 475.7,143.8 475.7,144.5 475.5,145.2 475.6,145.9 475.6,146.7 476.0,147.3 475.8,148.1 475.8,148.8 475.9,149.5 475.8,150.2 476.3,150.9 476.3,151.6 476.1,152.3 476.1,153.0 476.2,153.7 476.4,154.4 476.4,155.2 476.3,155.9 476.7,156.6 476.6,157.3 476.7,158.0 476.8,158.7 476.7,159.4 476.9,160.1 476.9,160.8 477.0,161.6 476.9,162.3 477.2,163.0 477.0,163.7 477.2,164.4 477.4,165.1 477.0,165.9 477.4,166.6 477.2,167.3 477.2,168.0 477.6,167.3 477.3,166.6 477.5,165.9 477.4,165.2 477.7,164.5 477.7,163.7 477.7,163.0 477.6,162.3 477.6,161.6 477.9,160.9 477.7,160.2 477.8,159.5 477.7,158.8 477.7,158.1 477.7,157.3 478.0,156.6 478.0,155.9 477.8,155.2 478.2,154.5 477.9,153.8 478.0,153.1 478.0,152.4 478.0,151.7 478.3,151.0 478.1,150.3 478.1,149.5 478.3,148.8 478.2,148.1 478.5,147.4 478.2,146.7 478.6,146.0 478.6,146.7 478.3,147.4 478.4,148.1 478.6,148.8 478.5,149.5 478.6,150.2 478.6,150.9 478.6,151.6 478.6,152.3 478.3,153.0 478.3,153.7 478.4,154.4 478.7,155.1 478.7,155.8 478.4,156.5 478.8,157.2 478.5,157.9 478.7,158.6 478.4,159.3 478.8,160.0 478.5,160.7 478.7,161.4 478.8,162.1 478.9,162.8 478.6,163.5 478.7,164.2 478.9,164.9 478.8,165.6 478.6,166.3 478.9,167.0 478.7,167.7 478.9,168.4 478.9,169.1 478.7,169.8 478.7,170.5 479.0,171.2 479.0,171.9 479.0,172.6 478.8,173.3 478.9,174.0 479.0,174.7 479.0,175.4 478.9,176.1 478.8,176.8 478.8,177.5 478.9,178.2 479.1,178.9 479.2,179.6 478.9,180.3 479.0,181.0 479.1,180.3 478.9,179.6 479.3,178.9 479.1,178.1 479.4,177.4 479.4,176.7 479.3,176.0 479.2,175.3 479.6,174.6 479.4,173.9 479.7,173.2 479.5,172.4 479.5,171.7 479.8,171.0 479.6,170.3 479.6,169.6 479.7,168.9 479.9,168.1 479.7,167.4 479.9,166.7 479.9,166.0 480.0,165.3 479.9,164.6 480.2,163.9 480.3,163.2 480.3,162.4 480.2,161.7 480.4,161.0 480.3,160.3 480.5,159.6 480.2,158.8 480.6,158.2 480.7,157.4 480.6,156.7 480.6,156.0 480.7,155.3 480.7,154.5 480.6,153.8 481.1,153.1 480.8,152.4 480.8,151.6 480.9,150.9 481.0,150.2 481.3,149.5 481.0,148.7 481.1,148.0 481.4,147.3 481.3,146.5 481.3,145.8 481.6,145.1 481.7,144.4 481.7,143.6 481.8,142.9 481.6,142.2 482.0,141.5 482.0,140.7 481.8,140.0 482.0,139.3 482.2,138.6 482.3,137.9 482.4,137.1 482.4,136.4 482.6,135.7 482.6,135.0 483.0,134.3 483.2,133.6 483.0,132.8 483.3,132.1 483.5,131.4 483.3,130.7 483.7,130.0 483.6,130.8 483.9,131.4 484.1,132.1 484.0,132.9 484.3,133.6 484.5,134.3 484.4,135.0 484.6,135.7 485.0,136.4 485.1,137.1 485.2,137.8 485.3,138.6 485.3,139.3 485.5,140.0 485.5,140.7 485.6,141.4 485.6,142.2 486.0,142.8 485.8,143.6 485.7,144.3 485.8,145.0 486.1,145.7 486.1,146.4 486.0,147.1 486.2,147.9 486.2,148.6 486.4,149.3 486.3,150.0 486.3,150.7 486.6,151.4 486.6,152.1 486.3,152.9 486.4,153.6 486.4,154.3 486.6,155.0 486.6,155.7 486.6,156.4 486.6,157.2 487.0,157.8 486.8,158.6 487.0,159.3 486.9,160.0 487.1,160.7 487.1,161.4 486.9,162.2 487.1,162.9 487.3,163.6 487.2,164.3 487.3,165.0 487.1,165.7 487.4,166.4 487.4,167.1 487.3,167.9 487.6,168.6 487.4,169.3 487.3,170.0 487.5,170.7 487.7,171.4 487.6,172.1 487.6,172.9 487.8,173.6 487.9,174.3 487.9,175.0 487.9,175.7 487.9,176.4 487.9,177.1 488.0,177.9 488.1,178.6 487.9,179.3 487.9,180.0 488.0,180.7 488.0,181.4 488.0,182.1 488.3,182.9 488.1,183.6 488.2,184.3 488.2,185.0 488.2,185.7 488.3,186.4 488.4,187.1 488.5,187.9 488.5,188.6 488.5,189.3 488.5,190.0 488.5,190.7 488.8,191.4 488.7,192.1 488.5,192.9 488.8,193.6 488.7,194.3 488.8,195.0 488.9,195.7 488.6,196.4 488.9,197.1 488.8,197.9 489.1,198.6 489.1,199.3 488.8,200.0 489.1,200.7 489.2,201.4 489.1,202.1 489.1,202.8 489.0,203.5 489.3,204.2 489.3,204.9 489.0,205.7 489.2,206.4 489.4,207.1 489.4,207.8 489.4,208.5 489.3,209.2 489.4,209.9 489.3,210.6 489.3,211.3 489.5,212.0 489.4,212.7 489.5,213.4 489.5,214.1 489.6,214.8 489.5,215.5 489.6,216.2 489.5,216.9 489.9,217.6 489.6,218.4 490.0,219.1 489.7,219.8 489.8,220.5 489.9,221.2 489.7,221.9 489.9,222.6 490.0,223.3 489.9,224.0 489.9,224.7 490.0,225.4 490.1,226.1 490.1,226.8 490.1,227.5 490.0,228.2 490.2,228.9 490.2,229.6 490.2,230.3 490.3,231.0 490.3,231.7 490.2,232.5 490.1,233.2 490.3,233.9 490.4,234.6 490.5,235.3 490.5,236.0 490.6,236.7 490.4,237.4 490.4,238.1 490.7,238.8 490.3,239.5 490.6,240.2 490.4,240.9 490.4,241.6 490.4,242.3 490.7,243.0 490.7,243.7 490.5,244.4 490.9,245.1 490.9,245.8 490.7,246.5 490.8,247.2 490.6,248.0 490.7,248.7 490.8,249.4 490.6,250.1 490.9,250.8 490.9,251.5 490.8,252.2 491.0,252.9 491.0,253.6 490.9,254.3 491.1,255.0 490.8,255.7 491.0,256.4 491.1,257.1 491.3,257.9 491.2,258.6 491.2,259.3 491.2,260.0 491.2,260.7 491.1,261.4 491.1,262.2 491.3,262.9 491.4,263.6 491.3,264.3 491.2,265.0 491.5,265.7 491.4,266.4 491.4,267.1 491.7,267.9 491.6,268.6 491.4,269.3 491.5,270.0 491.6,270.7 491.8,271.4 491.5,272.1 491.6,272.9 491.6,273.6 491.6,274.3 491.6,275.0 491.9,275.7 492.0,276.4 492.0,277.1 491.9,277.9 491.9,278.6 492.1,279.3 492.1,280.0 492.0,280.7 492.0,281.5 492.2,282.2 491.9,282.9 492.1,283.6 492.4,284.4 492.3,285.1 492.2,285.8 492.4,286.5 492.3,287.3 492.6,288.0 492.5,288.7 492.3,289.5 492.5,290.2 492.5,290.9 492.7,291.6 492.6,292.4 492.6,293.1 492.8,293.8 492.7,294.5 492.8,295.3 492.6,296.0 493.6,296.1 493.6,295.3 493.5,294.6 493.6,293.8 493.9,293.2 493.7,292.4 493.7,291.7 493.8,291.0 494.0,290.3 494.2,289.6 494.1,288.9 494.3,288.2 494.0,287.4 494.0,286.7 494.4,286.0 494.3,285.3 494.5,284.6 494.4,283.9 494.4,283.1 494.5,282.4 494.4,281.7 494.8,281.0 494.7,280.3 494.7,279.6 494.8,278.9 494.8,278.1 494.7,277.4 495.1,276.7 495.0,276.0 495.2,275.3 495.1,274.6 495.2,273.9 495.0,273.2 495.0,272.5 495.4,271.8 495.4,271.1 495.2,270.4 495.5,269.7 495.5,269.0 495.3,268.3 495.5,267.6 495.7,266.9 495.5,266.2 495.8,265.5 495.5,264.8 495.6,264.1 495.8,263.4 495.6,262.6 495.7,261.9 496.0,261.3 495.8,260.5 496.0,259.8 495.8,259.1 495.8,258.4 495.9,257.7 495.9,257.0 496.3,256.3 496.0,255.6 496.2,254.9 496.0,254.2 496.2,253.5 496.2,252.8 496.2,252.1 496.1,251.4 496.2,250.7 496.5,250.0 496.4,249.3 496.4,248.6 496.4,247.9 496.4,247.1 496.4,246.4 496.4,245.7 496.7,245.0 496.6,244.3 496.5,243.6 496.8,242.9 496.6,242.1 496.7,241.4 496.9,240.7 496.7,240.0 496.8,239.3 497.0,238.6 497.1,237.9 496.8,237.1 496.9,236.4 497.1,235.7 497.0,235.0 497.3,234.3 497.0,233.6 497.3,232.9 497.2,232.1 497.1,231.4 497.2,230.7 497.1,230.0 497.4,229.3 497.2,228.6 497.5,227.9 497.4,227.1 497.4,226.4 497.4,225.7 497.5,225.0 497.4,224.3 497.8,223.6 497.5,222.9 497.7,222.2 497.8,221.5 497.7,220.7 498.0,220.0 497.8,219.3 498.0,218.6 498.0,217.9 498.0,217.2 498.0,216.5 498.0,215.8 498.0,215.1 498.4,214.4 498.2,213.6 498.4,212.9 498.2,212.2 498.4,211.5 498.4,210.8 498.5,210.1 498.5,209.4 498.4,208.7 498.6,208.0 498.6,207.3 498.6,206.5 498.9,205.8 498.8,205.1 498.9,204.4 499.1,203.7 499.1,203.0 499.3,202.3 499.4,201.6 499.2,200.8 499.4,200.1 499.4,199.4 499.8,198.7 499.9,198.0 499.9,197.3 500.2,198.0 500.3,198.8 500.4,199.6 500.8,200.3 500.7,201.1 501.1,201.8 501.1,202.5 501.5,203.2 501.7,204.0 501.4,204.7 501.6,205.5 501.6,206.2 502.0,206.9 502.1,207.6 502.1,208.3 502.2,209.0 502.2,209.8 502.2,210.5 502.4,211.2 502.4,211.9 502.3,212.6 502.6,213.3 502.4,214.1 502.6,214.8 502.6,215.5 502.9,216.2 502.9,217.0 502.8,217.7 503.1,218.4 503.2,219.1 502.9,219.8 503.0,220.5 503.2,221.2 503.3,221.9 503.0,222.7 503.1,223.4 503.4,224.1 503.4,224.8 503.4,225.5 503.2,226.2 503.5,226.9 503.2,227.7 503.3,228.4 503.6,229.1 503.4,229.8 503.5,230.5 503.4,231.2 503.4,231.9 503.6,232.6 503.8,233.3 503.4,234.1 503.7,234.8 503.5,235.5 503.6,236.2 503.6,236.9 503.6,237.6 503.7,238.3 503.8,239.0 504.0,239.7 503.8,240.4 503.9,241.2 503.9,241.9 503.8,242.6 504.1,243.3 503.9,244.0 504.2,244.7 503.9,245.4 503.9,246.1 504.1,246.8 504.0,247.5 503.8,248.2 504.0,248.9 504.0,249.6 504.2,250.4 504.2,251.1 504.1,251.8 504.1,252.5 504.2,253.2 504.2,253.9 504.2,254.6 504.0,255.3 504.0,256.0 504.2,256.7 504.2,257.4 504.1,258.1 504.1,258.8 503.9,259.5 504.2,260.2 504.2,260.9 504.0,261.6 504.3,262.4 504.1,263.1 504.2,263.8 504.0,264.5 504.2,265.2 504.1,265.9 504.3,266.6 504.1,267.3 504.2,268.0 504.2,268.7 504.1,269.4 504.1,270.1 504.4,270.8 504.3,271.5 504.3,272.2 504.4,272.9 504.4,273.6 504.3,274.4 504.4,275.1 504.2,275.8 504.3,276.5 504.4,277.2 504.4,277.9 504.3,278.6 504.4,279.3 504.4,280.0 504.5,280.7 504.5,281.4 504.1,282.1 504.2,282.8 504.5,283.5 504.3,284.2 504.2,284.9 504.4,285.6 504.6,286.3 504.4,287.0 504.4,287.7 504.5,288.4 504.4,289.2 504.6,289.9 504.3,290.6 504.4,291.3 504.4,292.0 504.3,292.7 504.4,293.4 504.6,294.1 504.6,294.8 504.7,295.5 504.7,296.2 504.4,296.9 504.4,297.6 504.6,298.3 504.7,299.0 504.5,299.7 504.4,300.4 504.4,301.1 504.7,301.8 504.5,302.5 504.5,303.2 504.5,303.9 504.7,304.6 504.8,305.4 504.5,306.1 504.8,306.8 504.7,307.5 504.7,308.2 504.8,308.9 504.6,309.6 504.8,310.3 504.9,311.0 504.7,311.7 504.7,312.4 504.6,313.1 504.7,313.8 504.6,314.5 504.6,315.2 504.8,315.9 504.8,316.6 505.0,317.3 504.9,318.0 504.8,318.7 505.0,319.4 504.8,320.1 505.0,320.8 504.9,321.5 504.7,322.3 505.1,323.0 505.1,323.7 504.9,324.4 505.1,325.1 504.8,325.8 505.2,326.5 504.8,327.2 504.8,327.9 504.9,328.6 505.0,329.3 505.1,330.0 505.0,330.7 505.0,331.4 505.1,332.1 505.2,332.9 505.1,333.6 505.1,334.3 505.0,335.0 505.0,335.7 505.4,336.4 505.3,337.1 505.3,337.9 505.3,338.6 505.4,339.3 505.5,340.0 505.5,340.7 505.5,341.4 505.4,342.1 505.2,342.9 505.3,343.6 505.3,344.3 505.3,345.0 505.3,345.7 505.5,346.4 505.4,347.1 505.8,347.9 505.5,348.6 505.6,349.3 505.8,350.0 505.7,350.7 505.5,351.4 505.7,352.1 505.7,352.9 505.9,353.6 505.9,354.3 505.7,355.0 506.1,355.7 506.0,356.4 505.8,357.1 506.0,357.9 506.1,358.6 505.9,359.3 506.1,360.0 506.0,360.7 506.1,361.5 506.1,362.2 506.2,362.9 506.3,363.6 506.4,364.4 506.5,365.1 506.2,365.8 506.4,366.5 506.6,367.3 506.3,368.0 506.6,368.7 506.8,369.4 506.6,370.2 506.8,370.9 506.7,371.6 506.7,372.4 506.9,373.1 506.8,373.8 507.1,374.5 506.9,375.3 507.0,376.0 507.3,376.7 507.2,377.4 507.5,378.2 507.4,378.9 507.3,379.7 507.5,380.4 507.5,381.1 507.6,381.8 508.0,382.5 507.7,383.3 507.9,384.0 508.3,383.3 509.2,383.2 509.3,382.3 509.5,381.6 510.2,381.1 510.2,380.3 510.5,379.6 510.4,378.8 510.8,378.1 510.7,377.3 511.0,376.6 511.2,375.9 511.2,375.1 511.7,374.5 511.7,373.7 511.9,373.0 512.2,372.3 512.2,371.6 512.5,371.0 512.5,370.2 512.7,369.6 512.7,368.9 513.0,368.2 513.1,367.5 512.9,366.7 513.3,366.1 513.2,365.4 513.5,364.7 513.6,364.0 513.7,363.3 513.6,362.5 513.8,361.8 514.0,361.2 514.2,360.5 514.2,359.7 514.1,359.0 514.4,358.3 514.3,357.5 514.6,356.9 514.8,356.2 514.6,355.4 515.1,354.7 515.1,354.0 515.0,353.3 515.0,352.6 515.2,351.9 515.4,351.2 515.4,350.4 515.3,349.7 515.3,349.0 515.4,348.3 515.8,347.6 515.6,346.8 515.8,346.1 515.8,345.4 516.0,344.7 515.9,344.0 515.9,343.3 516.3,342.6 516.2,341.9 516.4,341.2 516.5,340.4 516.6,339.7 516.3,339.0 516.5,338.3 516.5,337.6 516.7,336.9 516.9,336.2 517.0,335.4 516.7,334.7 516.9,334.0 517.2,333.3 517.2,332.6 517.1,331.9 517.2,331.2 517.1,330.4 517.4,329.8 517.2,329.0 517.5,328.3 517.4,327.6 517.2,326.9 517.4,326.2 517.4,325.5 517.7,324.8 517.6,324.1 517.4,323.4 517.5,322.7 517.6,322.0 517.7,321.2 517.8,320.5 517.8,319.8 517.8,319.1 517.7,318.4 518.0,317.7 517.9,317.0 517.8,316.3 518.1,315.6 518.3,314.9 518.0,314.2 518.1,313.4 518.3,312.8 518.2,312.0 518.2,311.3 518.4,310.6 518.3,309.9 518.5,309.2 518.5,308.5 518.7,307.8 518.8,307.1 518.4,306.4 518.7,305.7 518.8,305.0 518.9,304.3 518.9,303.5 518.9,302.8 518.9,302.1 518.9,301.4 518.9,300.7 519.1,300.0 519.2,299.3 519.3,298.6 519.2,297.9 519.1,297.1 519.4,296.4 519.4,295.7 519.4,295.0 519.5,294.3 519.5,293.6 519.6,292.9 519.6,292.1 519.5,291.4 519.7,290.7 519.7,290.0 520.1,289.3 519.9,288.6 519.9,287.9 519.9,287.1 520.0,286.4 520.1,285.7 520.0,285.0 520.0,284.3 520.5,283.6 520.4,282.9 520.4,282.1 520.5,281.4 520.5,280.7 520.5,280.0 520.4,279.3 520.5,278.6 520.5,277.9 520.7,277.1 520.7,276.4 520.8,275.7 520.6,275.0 520.9,274.3 520.7,273.6 520.5,272.9 520.6,272.1 520.7,271.4 520.9,270.7 520.7,270.0 520.9,269.3 520.7,268.6 520.9,267.9 520.6,267.1 520.8,266.4 521.0,265.7 520.7,265.0 520.7,264.3 520.6,263.6 520.7,262.9 520.7,262.1 520.9,261.4 520.7,260.7 520.8,260.0 520.8,259.3 520.9,258.6 521.0,257.9 521.0,257.1 520.8,256.4 521.0,255.7 521.1,255.0 521.0,254.3 520.8,253.6 521.1,252.9 521.1,252.1 520.9,251.4 520.8,250.7 520.9,250.0 521.0,249.3 521.2,248.6 521.1,247.9 521.2,247.2 520.9,246.5 520.9,245.8 521.1,245.1 521.1,244.4 521.0,243.7 521.1,243.0 521.0,242.3 520.9,241.6 521.0,240.9 520.9,240.1 521.1,239.4 521.0,238.7 521.1,238.0 521.1,237.3 521.0,236.6 521.1,235.9 520.9,235.2 521.3,234.5 521.1,233.8 521.3,233.1 520.9,232.4 521.1,231.7 521.2,231.0 521.0,230.3 520.9,229.6 521.0,228.9 521.0,228.2 521.2,227.5 520.9,226.8 521.3,226.1 521.1,225.4 521.1,224.7 521.2,224.0 521.2,223.3 521.2,222.6 521.2,221.9 521.1,221.1 521.3,220.4 521.1,219.7 521.3,219.0 521.3,218.3 521.3,217.6 521.1,216.9 521.3,216.2 521.4,215.5 521.2,214.8 521.1,214.1 521.2,213.4 521.4,212.7 521.0,212.0 521.1,211.3 521.3,210.6 521.5,209.8 521.6,209.1 521.5,208.4 521.8,207.7 521.6,206.9 521.9,206.2 521.7,205.5 521.7,204.8 521.8,204.0 521.9,203.3 522.1,202.6 522.2,201.9 522.1,201.2 522.5,200.5 522.4,199.7 522.4,199.0 522.5,198.3 522.9,197.6 523.2,196.9 523.0,196.1 523.1,195.4 523.6,194.8 523.5,194.0 524.0,193.4 523.9,192.6 524.1,192.0 524.2,191.2 524.5,190.6 524.5,189.8 524.6,189.1 525.0,188.4 524.8,187.7 525.1,188.5 525.6,189.1 525.5,189.9 525.8,190.6 525.8,191.4 526.3,192.0 526.3,192.8 526.3,192.1 526.5,191.4 526.6,190.7 526.5,190.0 526.4,189.3 526.4,188.6 526.4,187.9 526.5,187.2 526.5,186.5 526.5,185.7 526.8,185.1 526.8,184.3 526.6,183.6 527.0,182.9 526.7,182.2 526.9,181.5 526.7,180.8 527.1,180.1 527.1,179.4 526.9,178.7 527.1,178.0 527.2,177.3 527.0,176.6 527.1,175.9 527.2,175.2 527.5,174.5 527.2,173.8 527.5,173.1 527.5,172.4 527.5,171.6 527.6,170.9 527.8,170.2 527.6,169.5 527.9,168.8 527.8,168.1 528.0,167.4 528.1,166.7 527.9,166.0 528.3,165.3 528.5,164.5 528.3,163.7 528.3,163.0 528.5,162.2 529.0,161.5 528.7,160.7 529.2,160.0 529.1,159.2 529.7,158.6 529.7,157.8 530.0,157.1 530.5,156.5 530.5,155.6 530.9,155.0 531.1,155.7 531.5,156.4 531.7,157.1 531.9,157.8 532.7,158.2 532.9,158.9 532.9,159.7 533.2,160.4 533.8,160.9 534.2,160.7 534.8,160.1 535.5,159.9 535.6,159.3 535.8,158.6 536.5,158.1 536.4,157.3 536.9,156.7 536.8,155.9 537.2,155.2 537.2,154.5 537.5,153.7 537.6,153.0 538.0,152.3 538.0,151.5 538.4,150.8 538.5,150.0 538.5,149.2 538.8,148.5 539.1,147.7 539.4,147.0 539.4,146.2 539.5,145.5 540.0,144.8 540.2,144.0 540.3,143.3 540.3,142.5 540.5,141.8 540.8,141.1 540.9,140.4 541.1,139.7 541.5,139.0 541.7,138.3 542.0,137.6 542.1,136.8 542.1,136.1 542.7,135.5 542.9,134.7 543.0,134.0 543.2,133.3 543.5,132.7 543.9,132.1 544.1,131.4 544.2,130.7 544.3,130.0 544.5,129.3 544.7,128.7 545.2,128.1 545.3,127.4 545.7,126.8 546.2,126.2 546.4,125.5 547.2,125.2 547.5,125.6 547.5,126.4 547.7,127.2 548.3,127.8 548.4,128.6 548.8,129.3 549.1,130.0 549.2,130.7 549.3,131.4 549.1,132.1 549.2,132.8 549.2,133.5 549.6,134.2 549.4,134.9 549.6,135.6 549.6,136.3 549.7,137.0 549.8,137.7 549.6,138.4 550.1,139.1 549.9,139.8 549.9,140.5 550.1,141.2 550.2,141.9 550.1,142.6 550.4,143.3 550.3,144.0 550.6,143.3 550.5,142.6 550.8,141.9 550.7,141.2 550.9,140.5 551.0,139.8 551.1,139.1 551.1,138.3 551.3,137.7 551.4,136.9 551.3,136.2 551.6,135.5 551.5,134.8 551.9,134.1 551.8,133.4 552.0,132.7 552.0,132.0 552.1,132.7 552.2,133.4 552.3,134.2 552.0,134.9 552.2,135.6 552.3,136.4 552.3,137.1 552.2,137.8 552.5,138.5 552.6,139.3 552.4,140.0 552.6,140.7 552.5,141.5 552.5,142.2 552.5,142.9 552.6,143.6 553.0,144.4 552.9,145.1 552.7,145.8 552.8,146.6 553.1,147.3 553.1,148.0 553.0,147.3 553.0,146.6 553.1,145.9 553.4,145.2 553.4,144.5 553.4,143.8 553.3,143.1 553.5,142.4 553.8,141.7 553.8,141.0 553.7,140.3 553.8,139.6 554.0,138.9 554.1,138.2 553.9,137.5 554.2,136.8 554.1,136.1 554.3,135.4 554.2,134.7 554.3,134.0 554.5,134.7 554.6,135.4 554.8,136.1 554.8,136.9 554.7,137.6 555.0,138.3 555.0,139.0 554.8,139.8 555.1,140.5 555.1,141.2 555.2,141.9 555.0,142.7 555.4,143.3 555.2,144.1 555.2,144.8 555.5,145.5 555.5,146.2 555.4,147.0 555.6,147.7 555.7,148.4 555.9,149.1 555.8,149.8 555.9,150.6 555.8,151.3 556.1,152.0 556.1,152.7 556.0,153.4 556.0,154.2 556.2,154.9 556.2,155.6 556.2,156.3 556.1,157.0 556.4,157.8 556.2,158.5 556.3,159.2 556.5,159.9 556.4,160.6 556.6,161.4 556.7,162.1 556.5,162.8 556.7,163.5 556.7,164.2 556.7,165.0 556.6,165.7 556.7,166.4 557.0,167.1 556.8,167.8 556.9,168.6 557.0,169.3 556.9,170.0 557.1,170.7 557.1,171.4 556.9,172.2 557.2,172.9 557.2,173.6 557.2,174.3 557.1,175.0 557.2,175.7 557.2,176.4 557.4,177.1 557.6,177.8 557.3,178.6 557.4,179.3 557.4,180.0 557.4,180.7 557.7,181.4 557.7,182.1 557.8,182.8 557.5,183.6 557.8,184.3 557.9,185.0 557.6,185.7 557.7,186.4 558.0,187.1 557.8,187.9 557.8,188.6 557.9,189.3 558.1,190.0 557.9,190.7 558.0,191.4 558.0,192.1 557.9,192.9 558.0,193.6 558.0,194.3 558.3,195.0 558.3,195.7 558.2,196.4 558.5,197.1 558.1,197.9 558.4,198.6 558.5,199.3 558.5,200.0 558.5,200.7 558.3,201.4 558.5,202.1 558.5,202.9 558.6,203.6 558.8,204.3 558.7,205.0 558.6,205.7 558.6,206.4 558.6,207.2 558.9,207.9 559.0,208.6 559.1,209.3 558.9,210.0 559.0,210.7 559.0,211.4 559.1,212.1 559.1,212.9 559.2,213.6 559.0,214.3 559.3,215.0 559.1,215.7 559.3,216.4 559.5,217.1 559.4,217.9 559.4,218.6 559.5,219.3 559.4,220.0 559.6,220.7 559.6,221.4 559.5,222.1 559.7,222.9 559.6,223.6 559.6,224.3 559.7,225.0 559.8,225.7 559.6,226.4 559.9,227.1 559.7,227.9 560.1,228.6 560.0,229.3 559.9,230.0 560.2,230.7 559.9,231.4 560.3,232.1 560.1,232.8 560.3,233.5 560.0,234.2 560.2,234.9 560.1,235.7 560.3,236.4 560.2,237.1 560.2,237.8 560.4,238.5 560.5,239.2 560.3,239.9 560.6,240.6 560.3,241.3 560.6,242.0 560.7,242.7 560.7,243.4 560.5,244.1 560.4,244.8 560.7,245.5 560.6,246.2 560.8,246.9 560.6,247.7 560.7,248.4 560.9,249.1 561.0,249.8 560.8,250.5 561.1,251.2 560.8,251.9 561.0,252.6 561.1,253.3 561.0,254.0 561.2,254.7 561.2,255.5 561.4,256.2 561.2,256.9 561.5,257.6 561.4,258.4 561.8,259.1 561.6,259.8 561.6,260.6 562.0,261.3 562.2,262.0 562.2,262.7 562.2,263.5 562.5,264.2 562.5,264.9 562.9,265.6 562.8,266.4 562.9,267.1 563.1,267.8 563.2,268.6 563.5,269.2 563.4,270.0 563.9,270.7 563.7,271.5 563.8,272.3 564.1,273.0 564.4,273.8 564.7,274.5 564.9,275.2 564.9,276.0 565.4,276.7 565.6,277.5 566.4,277.9 566.7,278.7 566.9,279.4 567.5,280.0 567.3,280.7 567.4,281.5 567.2,282.2 567.1,282.9 566.7,283.6 566.5,284.3 566.7,285.1 566.2,285.8 566.5,286.6 566.1,287.3 565.8,288.0 566.3,288.6 566.4,289.4 566.8,290.0 567.3,290.6 567.5,291.3 567.7,292.0 568.1,292.6 568.1,293.4 568.6,293.9 568.2,294.7 568.2,295.5 568.1,296.2 567.7,296.9 567.8,297.7 567.4,298.4 567.1,299.1 567.0,299.8 566.9,300.5 566.9,301.3 566.5,302.0 567.0,302.6 567.0,303.4 567.5,303.9 567.6,304.7 568.0,305.3 568.2,306.0 568.4,306.7 568.9,307.3 569.1,307.9 568.6,308.6 568.6,309.4 568.2,309.9 567.9,310.6 567.9,311.3 567.8,312.1 567.6,312.7 567.1,313.3 567.2,314.1 567.3,314.7 567.5,315.3 568.0,315.9 568.1,316.7 568.5,317.3 568.7,318.0 568.9,318.7 569.3,319.3 569.6,319.9 570.0,320.6 570.6,321.2 571.2,321.9 571.2,322.7 571.0,323.4 571.2,324.1 571.1,324.8 571.6,325.5 571.3,326.2 571.5,326.9 571.5,327.6 571.6,328.3 571.7,329.0 571.9,329.7 571.8,330.4 572.1,331.1 572.1,331.8 572.3,332.5 572.2,333.2 572.3,333.9 572.4,334.6 572.3,335.3 572.7,336.0 572.8,336.7 573.3,337.3 573.5,338.0 573.7,338.7 574.1,339.4 574.7,339.9 574.6,339.2 574.9,338.5 575.3,337.8 575.1,337.0 575.5,336.3 575.7,335.5 575.9,334.8 575.9,334.0 575.8,334.7 576.0,335.4 575.8,336.2 576.1,336.9 575.7,337.6 575.9,338.3 575.9,339.0 576.0,339.8 575.9,340.5 575.7,341.2 575.7,341.9 575.9,342.6 575.8,343.4 575.9,344.1 575.8,344.8 575.8,345.5 575.7,346.2 575.4,347.0 575.4,347.7 575.5,348.4 575.6,349.1 575.6,349.8 575.4,350.6 575.3,351.3 575.4,352.0 575.5,352.7 575.8,353.4 575.8,354.2 575.8,354.9 575.9,355.6 576.3,356.3 576.2,357.0 576.4,357.7 576.6,358.4 576.4,359.2 576.6,359.9 576.7,360.6 577.0,361.3 576.9,362.0 577.2,361.3 577.2,360.6 577.2,359.9 577.3,359.2 577.3,358.5 577.2,357.7 577.2,357.0 577.4,356.3 577.4,355.6 577.5,354.9 577.3,354.2 577.6,353.5 577.4,352.8 577.6,352.1 577.3,351.3 577.7,350.7 577.7,349.9 577.5,349.2 577.8,348.5 577.5,347.8 577.6,347.1 577.7,346.4 577.6,345.7 577.8,345.0 578.0,344.3 577.9,343.6 578.0,342.8 577.9,342.1 578.1,341.4 578.1,340.7 578.1,340.0 577.9,340.7 578.0,341.5 578.2,342.2 578.4,342.9 578.2,343.6 578.1,344.4 578.4,345.1 578.3,345.8 578.3,346.6 578.3,347.3 578.7,348.0 578.6,348.7 578.8,349.4 578.8,350.2 578.6,350.9 578.8,351.6 578.7,352.4 578.8,353.1 578.9,353.8 579.0,354.5 579.0,355.3 578.9,356.0 579.1,355.3 579.0,354.6 578.9,353.9 579.0,353.2 579.2,352.5 579.2,351.7 579.3,351.0 579.4,350.3 579.1,349.6 579.4,348.9 579.2,348.2 579.5,347.5 579.3,346.8 579.4,346.1 579.7,345.4 579.5,344.6 579.4,343.9 579.7,343.2 579.7,342.5 579.8,341.8 579.6,341.1 579.7,340.4 579.9,339.7 579.8,339.0 580.0,338.3 579.7,337.5 580.0,336.8 579.8,336.1 579.9,335.4 579.8,334.7 579.9,334.0 579.8,334.7 580.1,335.4 580.0,336.1 580.2,336.9 580.2,337.6 580.4,338.3 580.2,339.0 580.1,339.7 580.3,340.4 580.4,341.1 580.2,341.9 580.3,342.6 580.4,343.3 580.7,344.0 580.5,344.7 580.6,345.4 580.4,346.2 580.7,346.9 580.6,347.6 580.7,348.3 580.8,349.0 580.8,349.7 580.7,350.4 580.7,351.2 580.9,351.9 581.0,352.6 580.8,353.3 581.2,354.0 581.2,353.3 581.2,352.6 581.2,351.8 581.2,351.1 581.3,350.4 581.4,349.6 581.4,348.9 581.5,348.2 581.2,347.4 581.4,346.7 581.3,346.0 581.7,345.3 581.8,344.6 581.5,343.8 581.7,343.1 581.8,342.4 581.6,341.6 581.8,340.9 582.0,340.2 582.0,339.5 581.9,338.7 582.1,338.0 582.2,338.7 582.2,339.5 582.3,340.2 582.2,340.9 582.4,341.6 582.4,342.4 582.6,343.1 582.8,343.8 582.6,344.6 582.8,345.3 582.9,346.0" fill="none" stroke="#b3b3b3" stroke-width="2.7" stroke-linejoin="round" stroke-linecap="round"/>
<g stroke="#303030" stroke-width="0.95" fill="none">
<rect x="54.8" y="5.2" width="528.7" height="391.1"/>
<path d="M54.8 390.28h5M583.5 390.28h-5"/>
<path d="M54.8 384.27h5M583.5 384.27h-5"/>
<path d="M54.8 378.25h5M583.5 378.25h-5"/>
<path d="M54.8 372.24h5M583.5 372.24h-5"/>
<path d="M54.8 366.22h5M583.5 366.22h-5"/>
<path d="M54.8 360.20h5M583.5 360.20h-5"/>
<path d="M54.8 354.19h5M583.5 354.19h-5"/>
<path d="M54.8 348.17h5M583.5 348.17h-5"/>
<path d="M54.8 342.16h5M583.5 342.16h-5"/>
<path d="M54.8 336.14h10M583.5 336.14h-10"/>
<path d="M54.8 330.12h5M583.5 330.12h-5"/>
<path d="M54.8 324.11h5M583.5 324.11h-5"/>
<path d="M54.8 318.09h5M583.5 318.09h-5"/>
<path d="M54.8 312.08h5M583.5 312.08h-5"/>
<path d="M54.8 306.06h5M583.5 306.06h-5"/>
<path d="M54.8 300.04h5M583.5 300.04h-5"/>
<path d="M54.8 294.03h5M583.5 294.03h-5"/>
<path d="M54.8 288.01h5M583.5 288.01h-5"/>
<path d="M54.8 282.00h5M583.5 282.00h-5"/>
<path d="M54.8 275.98h10M583.5 275.98h-10"/>
<path d="M54.8 269.96h5M583.5 269.96h-5"/>
<path d="M54.8 263.95h5M583.5 263.95h-5"/>
<path d="M54.8 257.93h5M583.5 257.93h-5"/>
<path d="M54.8 251.92h5M583.5 251.92h-5"/>
<path d="M54.8 245.90h5M583.5 245.90h-5"/>
<path d="M54.8 239.88h5M583.5 239.88h-5"/>
<path d="M54.8 233.87h5M583.5 233.87h-5"/>
<path d="M54.8 227.85h5M583.5 227.85h-5"/>
<path d="M54.8 221.84h5M583.5 221.84h-5"/>
<path d="M54.8 215.82h10M583.5 215.82h-10"/>
<path d="M54.8 209.80h5M583.5 209.80h-5"/>
<path d="M54.8 203.79h5M583.5 203.79h-5"/>
<path d="M54.8 197.77h5M583.5 197.77h-5"/>
<path d="M54.8 191.76h5M583.5 191.76h-5"/>
<path d="M54.8 185.74h5M583.5 185.74h-5"/>
<path d="M54.8 179.72h5M583.5 179.72h-5"/>
<path d="M54.8 173.71h5M583.5 173.71h-5"/>
<path d="M54.8 167.69h5M583.5 167.69h-5"/>
<path d="M54.8 161.68h5M583.5 161.68h-5"/>
<path d="M54.8 155.66h10M583.5 155.66h-10"/>
<path d="M54.8 149.64h5M583.5 149.64h-5"/>
<path d="M54.8 143.63h5M583.5 143.63h-5"/>
<path d="M54.8 137.61h5M583.5 137.61h-5"/>
<path d="M54.8 131.60h5M583.5 131.60h-5"/>
<path d="M54.8 125.58h5M583.5 125.58h-5"/>
<path d="M54.8 119.56h5M583.5 119.56h-5"/>
<path d="M54.8 113.55h5M583.5 113.55h-5"/>
<path d="M54.8 107.53h5M583.5 107.53h-5"/>
<path d="M54.8 101.52h5M583.5 101.52h-5"/>
<path d="M54.8 95.50h10M583.5 95.50h-10"/>
<path d="M54.8 89.48h5M583.5 89.48h-5"/>
<path d="M54.8 83.47h5M583.5 83.47h-5"/>
<path d="M54.8 77.45h5M583.5 77.45h-5"/>
<path d="M54.8 71.44h5M583.5 71.44h-5"/>
<path d="M54.8 65.42h5M583.5 65.42h-5"/>
<path d="M54.8 59.40h5M583.5 59.40h-5"/>
<path d="M54.8 53.39h5M583.5 53.39h-5"/>
<path d="M54.8 47.37h5M583.5 47.37h-5"/>
<path d="M54.8 41.36h5M583.5 41.36h-5"/>
<path d="M54.8 35.34h10M583.5 35.34h-10"/>
<path d="M54.8 29.32h5M583.5 29.32h-5"/>
<path d="M54.8 23.31h5M583.5 23.31h-5"/>
<path d="M54.8 17.29h5M583.5 17.29h-5"/>
<path d="M54.8 11.28h5M583.5 11.28h-5"/>
<path d="M87.84 396.3v-4M87.84 5.2v4"/>
<path d="M120.89 396.3v-4M120.89 5.2v4"/>
<path d="M153.93 396.3v-4M153.93 5.2v4"/>
<path d="M186.98 396.3v-8M186.98 5.2v8"/>
<path d="M220.02 396.3v-4M220.02 5.2v4"/>
<path d="M253.06 396.3v-4M253.06 5.2v4"/>
<path d="M286.11 396.3v-4M286.11 5.2v4"/>
<path d="M319.15 396.3v-8M319.15 5.2v8"/>
<path d="M352.19 396.3v-4M352.19 5.2v4"/>
<path d="M385.24 396.3v-4M385.24 5.2v4"/>
<path d="M418.28 396.3v-4M418.28 5.2v4"/>
<path d="M451.32 396.3v-8M451.32 5.2v8"/>
<path d="M484.37 396.3v-4M484.37 5.2v4"/>
<path d="M517.41 396.3v-4M517.41 5.2v4"/>
<path d="M550.46 396.3v-4M550.46 5.2v4"/>
</g>
<g font-family="Liberation Sans, sans-serif" font-size="14" fill="#000">
<text x="51.2" y="396.40" text-anchor="end">0.0</text>
<text x="51.2" y="341.14" text-anchor="end">0.1</text>
<text x="51.2" y="280.98" text-anchor="end">0.2</text>
<text x="51.2" y="220.82" text-anchor="end">0.3</text>
<text x="51.2" y="160.66" text-anchor="end">0.4</text>
<text x="51.2" y="100.50" text-anchor="end">0.5</text>
<text x="51.2" y="40.34" text-anchor="end">0.6</text>
<text x="54.60" y="413.2" text-anchor="middle">200</text>
<text x="186.78" y="413.2" text-anchor="middle">400</text>
<text x="318.95" y="413.2" text-anchor="middle">600</text>
<text x="451.12" y="413.2" text-anchor="middle">800</text>
<text x="583.30" y="413.2" text-anchor="middle">1000</text>
<text x="2" y="14.8">(a)</text>
<text x="1.5" y="459.3">(b)</text>
<text x="250.6" y="477.4">(c)</text>
</g>
<g font-family="Liberation Sans, sans-serif" font-size="18" fill="#000">
<text x="315" y="439.3" text-anchor="middle">Wavelength (nm)</text>
<text transform="translate(16.3 249.9) rotate(-90)" font-size="18.6" textLength="91.2" lengthAdjust="spacing">Reflectivity</text>
</g>
<polyline points="91,312.6 141.6,317.6 192.4,301.3 266.7,298.2 513,329 553.4,274" fill="none" stroke="#111" stroke-width="1.6" stroke-dasharray="1.6 5.8" />
<polyline points="71.4,332.6 104.4,348.4 172.5,326 211.3,310.8 258.6,311.3 341.3,288 403.2,319.2 510,337 521.4,294.6 533,265.8" fill="none" stroke="#c4175f" stroke-width="1.5" stroke-dasharray="1.6 1.7" />
<path d="M91 182V202M87.2 182h7.6M87.2 202h7.6" stroke="#111" stroke-width="1.1" fill="none"/>
<rect x="87" y="188" width="8" height="8" fill="#fff" stroke="#111" stroke-width="1.1"/>
<path d="M141.6 203V221.4M137.79999999999998 203h7.6M137.79999999999998 221.4h7.6" stroke="#111" stroke-width="1.1" fill="none"/>
<rect x="137.6" y="208" width="8" height="8" fill="#fff" stroke="#111" stroke-width="1.1"/>
<path d="M192.6 130.4V155.2M188.79999999999998 130.4h7.6M188.79999999999998 155.2h7.6" stroke="#111" stroke-width="1.1" fill="none"/>
<rect x="188.6" y="139" width="8" height="8" fill="#fff" stroke="#111" stroke-width="1.1"/>
<path d="M266.6 62.6V94M262.8 62.6h7.6M262.8 94h7.6" stroke="#111" stroke-width="1.1" fill="none"/>
<rect x="262.6" y="74" width="8" height="8" fill="#fff" stroke="#111" stroke-width="1.1"/>
<path d="M553.4 71.4V102.4M549.6 71.4h7.6M549.6 102.4h7.6" stroke="#111" stroke-width="1.1" fill="none"/>
<rect x="549.4" y="83" width="8" height="8" fill="#fff" stroke="#111" stroke-width="1.1"/>
<rect x="509" y="358.4" width="8" height="8" fill="#fff" stroke="#111" stroke-width="1.1"/>
<path d="M71.4 115.4V173.4M67.10000000000001 115.4h8.6M67.10000000000001 173.4h8.6" stroke="#c4175f" stroke-width="1.5" fill="none"/>
<circle cx="71.4" cy="144.4" r="4.4" fill="#fff" stroke="#c4175f" stroke-width="1.6"/>
<path d="M104.4 230V264.4M100.10000000000001 230h8.6M100.10000000000001 264.4h8.6" stroke="#c4175f" stroke-width="1.5" fill="none"/>
<circle cx="104.4" cy="247" r="4.4" fill="#fff" stroke="#c4175f" stroke-width="1.6"/>
<path d="M172.6 120.2V177M168.29999999999998 120.2h8.6M168.29999999999998 177h8.6" stroke="#c4175f" stroke-width="1.5" fill="none"/>
<circle cx="172.6" cy="148.6" r="4.4" fill="#fff" stroke="#c4175f" stroke-width="1.6"/>
<path d="M211.6 55.6V126M207.29999999999998 55.6h8.6M207.29999999999998 126h8.6" stroke="#c4175f" stroke-width="1.5" fill="none"/>
<circle cx="211.6" cy="91" r="4.4" fill="#fff" stroke="#c4175f" stroke-width="1.6"/>
<path d="M258.4 70.6V138M254.09999999999997 70.6h8.6M254.09999999999997 138h8.6" stroke="#c4175f" stroke-width="1.5" fill="none"/>
<circle cx="258.4" cy="104.4" r="4.4" fill="#fff" stroke="#c4175f" stroke-width="1.6"/>
<path d="M341.4 38.4V112.4M337.09999999999997 38.4h8.6M337.09999999999997 112.4h8.6" stroke="#c4175f" stroke-width="1.5" fill="none"/>
<circle cx="341.4" cy="75" r="4.4" fill="#fff" stroke="#c4175f" stroke-width="1.6"/>
<path d="M403 229V264M398.7 229h8.6M398.7 264h8.6" stroke="#c4175f" stroke-width="1.5" fill="none"/>
<circle cx="403" cy="246.4" r="4.4" fill="#fff" stroke="#c4175f" stroke-width="1.6"/>
<path d="M521.4 205V244.4M517.1 205h8.6M517.1 244.4h8.6" stroke="#c4175f" stroke-width="1.5" fill="none"/>
<circle cx="521.4" cy="225" r="4.4" fill="#fff" stroke="#c4175f" stroke-width="1.6"/>
<path d="M533 83.6V149M528.7 83.6h8.6M528.7 149h8.6" stroke="#c4175f" stroke-width="1.5" fill="none"/>
<circle cx="533" cy="116.4" r="4.4" fill="#fff" stroke="#c4175f" stroke-width="1.6"/>
<circle cx="510" cy="369.4" r="4.4" fill="#fff" stroke="#c4175f" stroke-width="1.6"/>
<path d="M63.6 312.6H117.4M63.6 308.90000000000003v7.4M117.4 308.90000000000003v7.4" stroke="#111" stroke-width="1.2" fill="none"/>
<path d="M91 294.4V331M87.3 294.4h7.4M87.3 331h7.4" stroke="#111" stroke-width="1.2" fill="none"/>
<path d="M117.4 317.7H166M166 314.0v7.4" stroke="#111" stroke-width="1.2" fill="none"/>
<path d="M183.3 301.2H202M183.3 297.7v7M202 297.7v7" stroke="#111" stroke-width="1.2" fill="none"/>
<path d="M185.3 298.3H347.2M185.3 294.8v7M347.2 294.8v7" stroke="#111" stroke-width="1.2" fill="none"/>
<rect x="86.8" y="308.40000000000003" width="8.4" height="8.4" fill="#000"/>
<rect x="137.4" y="313.40000000000003" width="8.4" height="8.4" fill="#000"/>
<rect x="188.20000000000002" y="297.1" width="8.4" height="8.4" fill="#000"/>
<rect x="262.5" y="294.0" width="8.4" height="8.4" fill="#000"/>
<rect x="508.8" y="324.8" width="8.4" height="8.4" fill="#000"/>
<rect x="549.1999999999999" y="269.8" width="8.4" height="8.4" fill="#000"/>
<clipPath id="clipA"><rect x="54.8" y="5" width="529" height="391"/></clipPath>
<g clip-path="url(#clipA)">
<path d="M40 332.6H89.4M89.4 328.90000000000003v7.4" stroke="#c4175f" stroke-width="1.5" fill="none"/>
</g>
<path d="M88.6 348.4H120M88.6 344.7v7.4M120 344.7v7.4" stroke="#c4175f" stroke-width="1.5" fill="none"/>
<path d="M71.4 325.6V340M67.10000000000001 325.6h8.6M67.10000000000001 340h8.6" stroke="#c4175f" stroke-width="1.5" fill="none"/>
<path d="M104.4 343V354M100.10000000000001 343h8.6M100.10000000000001 354h8.6" stroke="#c4175f" stroke-width="1.5" fill="none"/>
<path d="M172.5 318V334.5M168.2 318h8.6M168.2 334.5h8.6" stroke="#c4175f" stroke-width="1.5" fill="none"/>
<path d="M211.3 300.7V320.7M207.0 300.7h8.6M207.0 320.7h8.6" stroke="#c4175f" stroke-width="1.5" fill="none"/>
<path d="M258.6 301.5V321.5M254.3 301.5h8.6M254.3 321.5h8.6" stroke="#c4175f" stroke-width="1.5" fill="none"/>
<path d="M341.3 275.5V300.8M337.0 275.5h8.6M337.0 300.8h8.6" stroke="#c4175f" stroke-width="1.5" fill="none"/>
<path d="M403.2 310V328M398.9 310h8.6M398.9 328h8.6" stroke="#c4175f" stroke-width="1.5" fill="none"/>
<path d="M510 331V343.6M505.7 331h8.6M505.7 343.6h8.6" stroke="#c4175f" stroke-width="1.5" fill="none"/>
<path d="M521.4 282.6V307M517.1 282.6h8.6M517.1 307h8.6" stroke="#c4175f" stroke-width="1.5" fill="none"/>
<path d="M533 250.6V280.6M528.7 250.6h8.6M528.7 280.6h8.6" stroke="#c4175f" stroke-width="1.5" fill="none"/>
<circle cx="71.4" cy="332.6" r="4.7" fill="#c4175f"/>
<circle cx="104.4" cy="348.4" r="4.7" fill="#c4175f"/>
<circle cx="172.5" cy="326" r="4.7" fill="#c4175f"/>
<circle cx="211.3" cy="310.8" r="4.7" fill="#c4175f"/>
<circle cx="258.6" cy="311.3" r="4.7" fill="#c4175f"/>
<circle cx="341.3" cy="288" r="4.7" fill="#c4175f"/>
<circle cx="403.2" cy="319.2" r="4.7" fill="#c4175f"/>
<circle cx="510" cy="337" r="4.7" fill="#c4175f"/>
<circle cx="521.4" cy="294.6" r="4.7" fill="#c4175f"/>
<circle cx="533" cy="265.8" r="4.7" fill="#c4175f"/>
<g font-family="Liberation Sans, sans-serif" fill="#000">
<text x="80.5" y="32.9" font-size="13.7" font-weight="bold" textLength="156.5" lengthAdjust="spacing">Reference atmosphere</text>
<circle cx="84.3" cy="47.4" r="4.4" fill="#fff" stroke="#c4175f" stroke-width="1.6"/>
<text x="97" y="51.6" font-size="13" textLength="68.5" lengthAdjust="spacing">2009: 58°S</text>
<rect x="80.3" y="62.8" width="8" height="8" fill="#fff" stroke="#111" stroke-width="1.1"/>
<text x="97" y="71.2" font-size="13" textLength="68.5" lengthAdjust="spacing">1994: 34°S</text>
<path d="M75 85.8H93" stroke="#b3b3b3" stroke-width="2.6"/>
<text x="97.3" y="90.5" font-size="13" textLength="86.2" lengthAdjust="spacing">Disk-averaged</text>
<text x="97.3" y="103.8" font-size="13" textLength="59.7" lengthAdjust="spacing">reflectivity</text>
<text x="253.5" y="342.5" font-size="13.7" font-weight="bold" textLength="85" lengthAdjust="spacing">Impact sites</text>
<circle cx="258.6" cy="357" r="4.7" fill="#c4175f"/>
<text x="271.5" y="361.2" font-size="13" textLength="101.5" lengthAdjust="spacing">2009: core, 56°S</text>
<rect x="254.4" y="372.8" width="8.4" height="8.4" fill="#000"/>
<text x="271.5" y="381.2" font-size="13" textLength="130.5" lengthAdjust="spacing">1994: SL9 fragment E</text>
</g>
<g clip-path="url(#cp1)">
<rect x="23" y="446" width="203" height="66" fill="url(#gP1)"/>
<path d="M5 478 L60 480 L120 487 L170 492 L245 490 L245 525 L5 525Z" fill="#063fb2" opacity="0.3" filter="url(#b4)"/>
<path d="M120 474 L245 468 L245 482 L130 484Z" fill="#3a98f4" opacity="0.35" filter="url(#b4)"/>
<ellipse cx="102" cy="473.4" rx="20" ry="4.2" fill="#08399f" opacity="0.7" filter="url(#b2)" transform="rotate(5 108 474)"/>
<ellipse cx="105" cy="473.8" rx="11" ry="2.2" fill="#072f8c" opacity="0.6" filter="url(#b1)" transform="rotate(5 111 474.5)"/>
<circle cx="115.3" cy="470.6" r="0.8" fill="#8fc4fa"/>
<path d="M5 440 L5 459.5 L23 459.5 C25.3 459.2 32.5 457.6 37.0 457.5 C41.5 457.4 45.7 458.2 50.0 459.0 C54.3 459.8 58.7 461.5 63.0 462.0 C67.3 462.5 71.8 462.2 76.0 462.0 C80.2 461.8 83.2 460.4 88.0 460.5 C92.8 460.6 98.8 461.8 105.0 462.5 C111.2 463.2 118.3 464.2 125.0 464.5 C131.7 464.8 138.8 464.2 145.0 464.0 C151.2 463.8 156.2 463.7 162.0 463.5 C167.8 463.3 174.0 463.2 180.0 463.0 C186.0 462.8 192.7 462.4 198.0 462.5 C203.3 462.6 207.3 463.2 212.0 463.5 C216.7 463.8 223.7 463.9 226.0 464.0 L245 464.0 L245 440Z" fill="#fff" opacity="0.34" filter="url(#bh)"/>
<path d="M130 440 L245 440 L245 472 L130 466Z" fill="#fff" opacity="0.18" filter="url(#bh)"/>
<path d="M5 440 L5 453.7 L23 453.7 C25.3 453.4 32.5 451.8 37.0 451.7 C41.5 451.6 45.7 452.4 50.0 453.2 C54.3 453.9 58.7 455.7 63.0 456.2 C67.3 456.7 71.8 456.4 76.0 456.2 C80.2 455.9 83.2 454.6 88.0 454.7 C92.8 454.8 98.8 456.0 105.0 456.7 C111.2 457.4 118.3 458.4 125.0 458.7 C131.7 458.9 138.8 458.4 145.0 458.2 C151.2 458.0 156.2 457.9 162.0 457.7 C167.8 457.5 174.0 457.4 180.0 457.2 C186.0 457.0 192.7 456.6 198.0 456.7 C203.3 456.8 207.3 457.4 212.0 457.7 C216.7 457.9 223.7 458.1 226.0 458.2 L245 458.2 L245 440Z" fill="#fff" filter="url(#bl)"/>
</g>
<g clip-path="url(#cp2)">
<rect x="23" y="514" width="203" height="66" fill="url(#gP2)"/>
<path d="M5 548 L70 548 L130 553 L245 552 L245 595 L5 595Z" fill="#063aa8" opacity="0.3" filter="url(#b4)"/>
<path d="M55 530 L80 533 L100 540 L90 543 L65 536Z" fill="#0a48b8" opacity="0.55" filter="url(#b2)"/>
<ellipse cx="99" cy="539.5" rx="17" ry="4.4" fill="#062f90" opacity="0.9" filter="url(#b2)" transform="rotate(8 99 539.5)"/>
<ellipse cx="100" cy="540" rx="10" ry="2.4" fill="#05267c" opacity="0.85" filter="url(#b1)" transform="rotate(8 100 540)"/>
<circle cx="108.5" cy="534.5" r="0.7" fill="#8fc4fa"/>
<path d="M5 508 L5 528.5 L23 528.5 C25.0 528.2 30.8 527.2 35.0 527.0 C39.2 526.8 43.8 527.0 48.0 527.5 C52.2 528.0 55.5 529.3 60.0 530.0 C64.5 530.7 70.0 531.3 75.0 531.5 C80.0 531.7 85.0 531.1 90.0 531.0 C95.0 530.9 100.0 530.8 105.0 531.0 C110.0 531.2 115.0 531.9 120.0 532.0 C125.0 532.1 130.0 531.7 135.0 531.5 C140.0 531.3 145.0 531.2 150.0 531.0 C155.0 530.8 160.0 530.8 165.0 530.5 C170.0 530.2 175.0 529.8 180.0 529.5 C185.0 529.2 190.0 528.5 195.0 528.5 C200.0 528.5 204.8 529.2 210.0 529.5 C215.2 529.8 223.3 530.3 226.0 530.5 L245 530.5 L245 508Z" fill="#fff" opacity="0.34" filter="url(#bh)"/>
<path d="M120 508 L245 508 L245 540 L120 534Z" fill="#fff" opacity="0.18" filter="url(#bh)"/>
<path d="M5 508 L5 522.7 L23 522.7 C25.0 522.5 30.8 521.4 35.0 521.2 C39.2 521.0 43.8 521.2 48.0 521.7 C52.2 522.2 55.5 523.5 60.0 524.2 C64.5 524.9 70.0 525.5 75.0 525.7 C80.0 525.9 85.0 525.3 90.0 525.2 C95.0 525.1 100.0 525.0 105.0 525.2 C110.0 525.4 115.0 526.1 120.0 526.2 C125.0 526.3 130.0 525.9 135.0 525.7 C140.0 525.5 145.0 525.4 150.0 525.2 C155.0 525.0 160.0 525.0 165.0 524.7 C170.0 524.5 175.0 524.0 180.0 523.7 C185.0 523.4 190.0 522.7 195.0 522.7 C200.0 522.7 204.8 523.4 210.0 523.7 C215.2 524.0 223.3 524.5 226.0 524.7 L245 524.7 L245 508Z" fill="#fff" filter="url(#bl)"/>
</g>
<g clip-path="url(#cp3)">
<rect x="23" y="582" width="203" height="66" fill="url(#gP3)"/>
<path d="M5 616 L80 620 L160 622 L245 616 L245 665 L5 665Z" fill="#063fb2" opacity="0.25" filter="url(#b4)"/>
<path d="M58 601 C72 597 100 597.5 120 600 C136 602 148 609 144 613 C125 616.5 92 613 74 609.5 C62 607 55 604 58 601Z" fill="#0b45b4" opacity="0.42" filter="url(#b2)"/>
<path d="M70 603 L95 606 L110 604 L128 609 L135 612 L112 611 L88 609Z" fill="#0a3da6" opacity="0.32" filter="url(#b1)"/>
<circle cx="197" cy="599" r="0.9" fill="#d8ecff"/>
<path d="M5 575 L5 598.5 L23 598.5 C25.2 598.2 31.5 597.3 36.0 597.0 C40.5 596.7 45.7 596.3 50.0 596.5 C54.3 596.7 57.7 597.6 62.0 598.0 C66.3 598.4 71.3 599.0 76.0 599.0 C80.7 599.0 85.3 598.4 90.0 598.0 C94.7 597.6 99.3 596.7 104.0 596.5 C108.7 596.3 113.3 596.6 118.0 597.0 C122.7 597.4 127.3 598.5 132.0 599.0 C136.7 599.5 141.3 600.0 146.0 600.0 C150.7 600.0 155.2 599.5 160.0 599.0 C164.8 598.5 170.0 597.5 175.0 597.0 C180.0 596.5 185.0 596.0 190.0 596.0 C195.0 596.0 199.0 596.8 205.0 597.0 C211.0 597.2 222.5 597.4 226.0 597.5 L245 597.5 L245 575Z" fill="#fff" opacity="0.42" filter="url(#bh)"/>
<path d="M5 575 L5 591.0 L23 591.0 C25.2 590.8 31.5 589.8 36.0 589.5 C40.5 589.2 45.7 588.8 50.0 589.0 C54.3 589.2 57.7 590.1 62.0 590.5 C66.3 590.9 71.3 591.5 76.0 591.5 C80.7 591.5 85.3 590.9 90.0 590.5 C94.7 590.1 99.3 589.2 104.0 589.0 C108.7 588.8 113.3 589.1 118.0 589.5 C122.7 589.9 127.3 591.0 132.0 591.5 C136.7 592.0 141.3 592.5 146.0 592.5 C150.7 592.5 155.2 592.0 160.0 591.5 C164.8 591.0 170.0 590.0 175.0 589.5 C180.0 589.0 185.0 588.5 190.0 588.5 C195.0 588.5 199.0 589.2 205.0 589.5 C211.0 589.8 222.5 589.9 226.0 590.0 L245 590.0 L245 575Z" fill="#fff" filter="url(#bl)"/>
</g>
<g clip-path="url(#cp4)">
<rect x="23" y="649" width="203" height="66" fill="url(#gP4)"/>
<path d="M5 684 L80 688 L160 690 L245 684 L245 730 L5 730Z" fill="#063fb2" opacity="0.25" filter="url(#b4)"/>
<path d="M55 669 C72 665 104 666 126 669 C142 671.5 156 678 150 681.5 C128 685 94 681 74 677.5 C62 675 52 672 55 669Z" fill="#0b45b4" opacity="0.42" filter="url(#b2)"/>
<path d="M68 671 L92 674 L108 672.5 L130 677 L140 680.5 L114 679.5 L86 677Z" fill="#0a3da6" opacity="0.32" filter="url(#b1)"/>
<path d="M5 642 L5 665.5 L23 665.5 C25.2 665.3 31.5 664.8 36.0 664.5 C40.5 664.2 45.3 663.9 50.0 664.0 C54.7 664.1 59.3 664.7 64.0 665.0 C68.7 665.3 73.3 666.0 78.0 666.0 C82.7 666.0 87.3 665.4 92.0 665.0 C96.7 664.6 101.3 663.7 106.0 663.5 C110.7 663.3 115.3 663.7 120.0 664.0 C124.7 664.3 129.3 665.1 134.0 665.5 C138.7 665.9 143.3 666.5 148.0 666.5 C152.7 666.5 157.3 665.9 162.0 665.5 C166.7 665.1 171.3 664.4 176.0 664.0 C180.7 663.6 185.2 663.0 190.0 663.0 C194.8 663.0 199.0 663.8 205.0 664.0 C211.0 664.2 222.5 664.4 226.0 664.5 L245 664.5 L245 642Z" fill="#fff" opacity="0.42" filter="url(#bh)"/>
<path d="M5 642 L5 658.3 L23 658.3 C25.2 658.1 31.5 657.5 36.0 657.3 C40.5 657.0 45.3 656.7 50.0 656.8 C54.7 656.9 59.3 657.5 64.0 657.8 C68.7 658.1 73.3 658.8 78.0 658.8 C82.7 658.8 87.3 658.2 92.0 657.8 C96.7 657.4 101.3 656.5 106.0 656.3 C110.7 656.1 115.3 656.5 120.0 656.8 C124.7 657.1 129.3 657.9 134.0 658.3 C138.7 658.7 143.3 659.3 148.0 659.3 C152.7 659.3 157.3 658.7 162.0 658.3 C166.7 657.9 171.3 657.2 176.0 656.8 C180.7 656.4 185.2 655.8 190.0 655.8 C194.8 655.8 199.0 656.5 205.0 656.8 C211.0 657.0 222.5 657.2 226.0 657.3 L245 657.3 L245 642Z" fill="#fff" filter="url(#bl)"/>
</g>
<g clip-path="url(#cp5)">
<rect x="23" y="713" width="203" height="69" fill="url(#gP5)"/>
<ellipse cx="112" cy="716" rx="55" ry="6" fill="#fff" opacity="0.45" filter="url(#b2)"/>
<ellipse cx="121" cy="716.3" rx="22" ry="4.8" fill="#fff" filter="url(#b1)"/>
<ellipse cx="77.8" cy="719.3" rx="6.5" ry="2.6" fill="#fff" opacity="0.9" filter="url(#b1)"/>
<path d="M23 740 L226 738 L226 746 L23 747Z" fill="#0c58cf" opacity="0.25" filter="url(#b2)"/>
</g>
<g font-family="Liberation Sans, sans-serif" font-size="10.8" fill="#eef4ff">
  <text x="160.8" y="499.7" textLength="41.3" lengthAdjust="spacing">7/23/09</text>
  <text x="159.4" y="566.6" textLength="41.3" lengthAdjust="spacing">7/23/09</text>
  <text x="160.2" y="634.6" textLength="41.8" lengthAdjust="spacing">8/03/09</text>
  <text x="158.2" y="698.8" textLength="41.8" lengthAdjust="spacing">8/08/09</text>
  <text x="158.8" y="764.8" textLength="41.5" lengthAdjust="spacing">9/08/09</text>
</g>

<g stroke="#3a3a3a" stroke-width="0.9" fill="none">
<rect x="285.85" y="463.1" width="288.25" height="271.1"/>
<path d="M285.85 729.27h2.7M574.1 729.27h-2.7"/>
<path d="M285.85 724.34h2.7M574.1 724.34h-2.7"/>
<path d="M285.85 719.41h2.7M574.1 719.41h-2.7"/>
<path d="M285.85 714.48h2.7M574.1 714.48h-2.7"/>
<path d="M285.85 709.55h2.7M574.1 709.55h-2.7"/>
<path d="M285.85 704.62h2.7M574.1 704.62h-2.7"/>
<path d="M285.85 699.69h2.7M574.1 699.69h-2.7"/>
<path d="M285.85 694.76h2.7M574.1 694.76h-2.7"/>
<path d="M285.85 689.83h2.7M574.1 689.83h-2.7"/>
<path d="M285.85 684.90h5.5M574.1 684.90h-5.5"/>
<path d="M285.85 679.97h2.7M574.1 679.97h-2.7"/>
<path d="M285.85 675.04h2.7M574.1 675.04h-2.7"/>
<path d="M285.85 670.11h2.7M574.1 670.11h-2.7"/>
<path d="M285.85 665.18h2.7M574.1 665.18h-2.7"/>
<path d="M285.85 660.25h2.7M574.1 660.25h-2.7"/>
<path d="M285.85 655.32h2.7M574.1 655.32h-2.7"/>
<path d="M285.85 650.39h2.7M574.1 650.39h-2.7"/>
<path d="M285.85 645.46h2.7M574.1 645.46h-2.7"/>
<path d="M285.85 640.53h2.7M574.1 640.53h-2.7"/>
<path d="M285.85 635.60h5.5M574.1 635.60h-5.5"/>
<path d="M285.85 630.67h2.7M574.1 630.67h-2.7"/>
<path d="M285.85 625.74h2.7M574.1 625.74h-2.7"/>
<path d="M285.85 620.81h2.7M574.1 620.81h-2.7"/>
<path d="M285.85 615.88h2.7M574.1 615.88h-2.7"/>
<path d="M285.85 610.95h2.7M574.1 610.95h-2.7"/>
<path d="M285.85 606.02h2.7M574.1 606.02h-2.7"/>
<path d="M285.85 601.09h2.7M574.1 601.09h-2.7"/>
<path d="M285.85 596.16h2.7M574.1 596.16h-2.7"/>
<path d="M285.85 591.23h2.7M574.1 591.23h-2.7"/>
<path d="M285.85 586.30h5.5M574.1 586.30h-5.5"/>
<path d="M285.85 581.37h2.7M574.1 581.37h-2.7"/>
<path d="M285.85 576.44h2.7M574.1 576.44h-2.7"/>
<path d="M285.85 571.51h2.7M574.1 571.51h-2.7"/>
<path d="M285.85 566.58h2.7M574.1 566.58h-2.7"/>
<path d="M285.85 561.65h2.7M574.1 561.65h-2.7"/>
<path d="M285.85 556.72h2.7M574.1 556.72h-2.7"/>
<path d="M285.85 551.79h2.7M574.1 551.79h-2.7"/>
<path d="M285.85 546.86h2.7M574.1 546.86h-2.7"/>
<path d="M285.85 541.93h2.7M574.1 541.93h-2.7"/>
<path d="M285.85 537.00h5.5M574.1 537.00h-5.5"/>
<path d="M285.85 532.07h2.7M574.1 532.07h-2.7"/>
<path d="M285.85 527.14h2.7M574.1 527.14h-2.7"/>
<path d="M285.85 522.21h2.7M574.1 522.21h-2.7"/>
<path d="M285.85 517.28h2.7M574.1 517.28h-2.7"/>
<path d="M285.85 512.35h2.7M574.1 512.35h-2.7"/>
<path d="M285.85 507.42h2.7M574.1 507.42h-2.7"/>
<path d="M285.85 502.49h2.7M574.1 502.49h-2.7"/>
<path d="M285.85 497.56h2.7M574.1 497.56h-2.7"/>
<path d="M285.85 492.63h2.7M574.1 492.63h-2.7"/>
<path d="M285.85 487.70h5.5M574.1 487.70h-5.5"/>
<path d="M285.85 482.77h2.7M574.1 482.77h-2.7"/>
<path d="M285.85 477.84h2.7M574.1 477.84h-2.7"/>
<path d="M285.85 472.91h2.7M574.1 472.91h-2.7"/>
<path d="M285.85 467.98h2.7M574.1 467.98h-2.7"/>
<path d="M290.65 734.2v-2.7M290.65 463.1v2.7"/>
<path d="M295.46 734.2v-2.7M295.46 463.1v2.7"/>
<path d="M300.26 734.2v-2.7M300.26 463.1v2.7"/>
<path d="M305.07 734.2v-2.7M305.07 463.1v2.7"/>
<path d="M309.87 734.2v-2.7M309.87 463.1v2.7"/>
<path d="M314.68 734.2v-2.7M314.68 463.1v2.7"/>
<path d="M319.48 734.2v-2.7M319.48 463.1v2.7"/>
<path d="M324.28 734.2v-2.7M324.28 463.1v2.7"/>
<path d="M329.09 734.2v-2.7M329.09 463.1v2.7"/>
<path d="M333.89 734.2v-5.5M333.89 463.1v5.5"/>
<path d="M338.70 734.2v-2.7M338.70 463.1v2.7"/>
<path d="M343.50 734.2v-2.7M343.50 463.1v2.7"/>
<path d="M348.30 734.2v-2.7M348.30 463.1v2.7"/>
<path d="M353.11 734.2v-2.7M353.11 463.1v2.7"/>
<path d="M357.91 734.2v-2.7M357.91 463.1v2.7"/>
<path d="M362.72 734.2v-2.7M362.72 463.1v2.7"/>
<path d="M367.52 734.2v-2.7M367.52 463.1v2.7"/>
<path d="M372.33 734.2v-2.7M372.33 463.1v2.7"/>
<path d="M377.13 734.2v-2.7M377.13 463.1v2.7"/>
<path d="M381.93 734.2v-5.5M381.93 463.1v5.5"/>
<path d="M386.74 734.2v-2.7M386.74 463.1v2.7"/>
<path d="M391.54 734.2v-2.7M391.54 463.1v2.7"/>
<path d="M396.35 734.2v-2.7M396.35 463.1v2.7"/>
<path d="M401.15 734.2v-2.7M401.15 463.1v2.7"/>
<path d="M405.95 734.2v-2.7M405.95 463.1v2.7"/>
<path d="M410.76 734.2v-2.7M410.76 463.1v2.7"/>
<path d="M415.56 734.2v-2.7M415.56 463.1v2.7"/>
<path d="M420.37 734.2v-2.7M420.37 463.1v2.7"/>
<path d="M425.17 734.2v-2.7M425.17 463.1v2.7"/>
<path d="M429.98 734.2v-5.5M429.98 463.1v5.5"/>
<path d="M434.78 734.2v-2.7M434.78 463.1v2.7"/>
<path d="M439.58 734.2v-2.7M439.58 463.1v2.7"/>
<path d="M444.39 734.2v-2.7M444.39 463.1v2.7"/>
<path d="M449.19 734.2v-2.7M449.19 463.1v2.7"/>
<path d="M454.00 734.2v-2.7M454.00 463.1v2.7"/>
<path d="M458.80 734.2v-2.7M458.80 463.1v2.7"/>
<path d="M463.60 734.2v-2.7M463.60 463.1v2.7"/>
<path d="M468.41 734.2v-2.7M468.41 463.1v2.7"/>
<path d="M473.21 734.2v-2.7M473.21 463.1v2.7"/>
<path d="M478.02 734.2v-5.5M478.02 463.1v5.5"/>
<path d="M482.82 734.2v-2.7M482.82 463.1v2.7"/>
<path d="M487.62 734.2v-2.7M487.62 463.1v2.7"/>
<path d="M492.43 734.2v-2.7M492.43 463.1v2.7"/>
<path d="M497.23 734.2v-2.7M497.23 463.1v2.7"/>
<path d="M502.04 734.2v-2.7M502.04 463.1v2.7"/>
<path d="M506.84 734.2v-2.7M506.84 463.1v2.7"/>
<path d="M511.65 734.2v-2.7M511.65 463.1v2.7"/>
<path d="M516.45 734.2v-2.7M516.45 463.1v2.7"/>
<path d="M521.25 734.2v-2.7M521.25 463.1v2.7"/>
<path d="M526.06 734.2v-5.5M526.06 463.1v5.5"/>
<path d="M530.86 734.2v-2.7M530.86 463.1v2.7"/>
<path d="M535.67 734.2v-2.7M535.67 463.1v2.7"/>
<path d="M540.47 734.2v-2.7M540.47 463.1v2.7"/>
<path d="M545.28 734.2v-2.7M545.28 463.1v2.7"/>
<path d="M550.08 734.2v-2.7M550.08 463.1v2.7"/>
<path d="M554.88 734.2v-2.7M554.88 463.1v2.7"/>
<path d="M559.69 734.2v-2.7M559.69 463.1v2.7"/>
<path d="M564.49 734.2v-2.7M564.49 463.1v2.7"/>
<path d="M569.30 734.2v-2.7M569.30 463.1v2.7"/>
<path d="M286.00 492.50C286.67 492.00 288.75 490.20 290.00 489.50C291.25 488.80 292.25 488.63 293.50 488.30C294.75 487.97 294.75 487.63 297.50 487.50C300.25 487.37 304.58 487.50 310.00 487.50C315.42 487.50 325.42 487.29 330.00 487.50C334.58 487.71 335.00 488.00 337.50 488.75C340.00 489.50 342.50 490.88 345.00 492.00C347.50 493.12 350.00 494.50 352.50 495.50C355.00 496.50 357.92 497.25 360.00 498.00C362.08 498.75 362.92 499.04 365.00 500.00C367.08 500.96 370.00 502.71 372.50 503.75C375.00 504.79 377.50 505.62 380.00 506.25C382.50 506.88 385.00 507.38 387.50 507.50C390.00 507.62 392.50 507.29 395.00 507.00C397.50 506.71 400.21 506.38 402.50 505.75C404.79 505.12 406.88 504.29 408.75 503.25C410.62 502.21 412.50 500.88 413.75 499.50C415.00 498.12 415.21 495.96 416.25 495.00C417.29 494.04 418.54 494.79 420.00 493.75C421.46 492.71 423.33 490.21 425.00 488.75C426.67 487.29 428.33 485.92 430.00 485.00C431.67 484.08 432.50 483.58 435.00 483.25C437.50 482.92 441.67 483.00 445.00 483.00C448.33 483.00 450.83 483.25 455.00 483.25C459.17 483.25 464.17 483.21 470.00 483.00C475.83 482.79 483.33 482.21 490.00 482.00C496.67 481.79 503.33 481.75 510.00 481.75C516.67 481.75 524.58 482.00 530.00 482.00C535.42 482.00 539.17 481.46 542.50 481.75C545.83 482.04 547.08 482.88 550.00 483.75C552.92 484.62 556.67 485.88 560.00 487.00C563.33 488.12 567.67 489.67 570.00 490.50C572.33 491.33 573.33 491.75 574.00 492.00" stroke-width="1" stroke-linejoin="round"/>
<path d="M286.00 537.00C286.67 536.79 287.67 535.88 290.00 535.75C292.33 535.62 295.83 536.04 300.00 536.25C304.17 536.46 310.00 536.88 315.00 537.00C320.00 537.12 326.25 536.83 330.00 537.00C333.75 537.17 335.00 537.42 337.50 538.00C340.00 538.58 342.50 539.54 345.00 540.50C347.50 541.46 350.00 542.92 352.50 543.75C355.00 544.58 357.92 544.88 360.00 545.50C362.08 546.12 362.92 546.42 365.00 547.50C367.08 548.58 370.00 550.75 372.50 552.00C375.00 553.25 377.92 554.00 380.00 555.00C382.08 556.00 383.33 557.46 385.00 558.00C386.67 558.54 388.42 558.42 390.00 558.25C391.58 558.08 393.04 556.83 394.50 557.00C395.96 557.17 397.42 558.96 398.75 559.25C400.08 559.54 401.04 559.25 402.50 558.75C403.96 558.25 405.83 556.88 407.50 556.25C409.17 555.62 410.83 555.83 412.50 555.00C414.17 554.17 415.83 552.71 417.50 551.25C419.17 549.79 420.83 547.71 422.50 546.25C424.17 544.79 426.25 543.21 427.50 542.50C428.75 541.79 427.92 542.29 430.00 542.00C432.08 541.71 436.67 540.79 440.00 540.75C443.33 540.71 445.83 541.38 450.00 541.75C454.17 542.12 460.00 542.67 465.00 543.00C470.00 543.33 474.17 543.50 480.00 543.75C485.83 544.00 493.33 544.17 500.00 544.50C506.67 544.83 514.17 545.33 520.00 545.75C525.83 546.17 530.83 546.58 535.00 547.00C539.17 547.42 541.67 547.62 545.00 548.25C548.33 548.88 551.67 549.92 555.00 550.75C558.33 551.58 561.83 552.54 565.00 553.25C568.17 553.96 572.50 554.71 574.00 555.00" stroke-width="1" stroke-linejoin="round"/>
<path d="M286.00 587.50C287.50 587.29 290.17 586.50 295.00 586.25C299.83 586.00 309.17 585.88 315.00 586.00C320.83 586.12 326.04 586.62 330.00 587.00C333.96 587.38 336.46 587.67 338.75 588.25C341.04 588.83 342.21 589.50 343.75 590.50C345.29 591.50 346.12 593.58 348.00 594.25C349.88 594.92 352.58 594.46 355.00 594.50C357.42 594.54 360.42 594.33 362.50 594.50C364.58 594.67 366.04 595.71 367.50 595.50C368.96 595.29 370.08 593.50 371.25 593.25C372.42 593.00 373.38 593.46 374.50 594.00C375.62 594.54 376.67 596.25 378.00 596.50C379.33 596.75 380.50 595.83 382.50 595.50C384.50 595.17 387.83 594.88 390.00 594.50C392.17 594.12 394.04 593.25 395.50 593.25C396.96 593.25 397.67 594.00 398.75 594.50C399.83 595.00 400.75 596.33 402.00 596.25C403.25 596.17 404.92 594.21 406.25 594.00C407.58 593.79 408.54 594.96 410.00 595.00C411.46 595.04 413.54 594.33 415.00 594.25C416.46 594.17 417.29 594.88 418.75 594.50C420.21 594.12 422.29 592.54 423.75 592.00C425.21 591.46 426.46 591.08 427.50 591.25C428.54 591.42 428.33 592.29 430.00 593.00C431.67 593.71 435.00 595.17 437.50 595.50C440.00 595.83 443.12 595.17 445.00 595.00C446.88 594.83 447.08 595.00 448.75 594.50C450.42 594.00 452.92 592.88 455.00 592.00C457.08 591.12 458.75 590.08 461.25 589.25C463.75 588.42 466.88 587.71 470.00 587.00C473.12 586.29 477.08 585.21 480.00 585.00C482.92 584.79 485.00 585.25 487.50 585.75C490.00 586.25 492.50 587.21 495.00 588.00C497.50 588.79 499.58 589.62 502.50 590.50C505.42 591.38 509.17 592.58 512.50 593.25C515.83 593.92 519.17 594.38 522.50 594.50C525.83 594.62 529.17 594.33 532.50 594.00C535.83 593.67 538.75 592.92 542.50 592.50C546.25 592.08 550.62 591.79 555.00 591.50C559.38 591.21 565.58 590.92 568.75 590.75C571.92 590.58 573.12 590.54 574.00 590.50" stroke-width="1" stroke-linejoin="round"/>
<path d="M286.00 635.50C287.50 635.42 291.83 634.96 295.00 635.00C298.17 635.04 302.29 635.75 305.00 635.75C307.71 635.75 308.75 634.92 311.25 635.00C313.75 635.08 317.50 635.83 320.00 636.25C322.50 636.67 324.38 637.38 326.25 637.50C328.12 637.62 329.58 636.46 331.25 637.00C332.92 637.54 334.58 639.71 336.25 640.75C337.92 641.79 339.38 642.67 341.25 643.25C343.12 643.83 345.42 643.75 347.50 644.25C349.58 644.75 352.08 646.54 353.75 646.25C355.42 645.96 356.38 643.33 357.50 642.50C358.62 641.67 359.46 641.17 360.50 641.25C361.54 641.33 362.50 642.46 363.75 643.00C365.00 643.54 366.54 644.88 368.00 644.50C369.46 644.12 370.92 641.71 372.50 640.75C374.08 639.79 375.83 639.00 377.50 638.75C379.17 638.50 381.04 639.00 382.50 639.25C383.96 639.50 384.79 640.33 386.25 640.25C387.71 640.17 389.38 638.79 391.25 638.75C393.12 638.71 395.21 639.50 397.50 640.00C399.79 640.50 402.50 641.21 405.00 641.75C407.50 642.29 410.21 642.67 412.50 643.25C414.79 643.83 417.08 645.04 418.75 645.25C420.42 645.46 421.04 645.29 422.50 644.50C423.96 643.71 426.25 641.38 427.50 640.50C428.75 639.62 428.33 639.54 430.00 639.25C431.67 638.96 435.21 638.42 437.50 638.75C439.79 639.08 441.67 640.17 443.75 641.25C445.83 642.33 448.12 644.71 450.00 645.25C451.88 645.79 453.12 644.71 455.00 644.50C456.88 644.29 459.58 644.04 461.25 644.00C462.92 643.96 463.54 644.58 465.00 644.25C466.46 643.92 468.12 642.83 470.00 642.00C471.88 641.17 474.58 639.79 476.25 639.25C477.92 638.71 478.12 638.50 480.00 638.75C481.88 639.00 484.58 640.04 487.50 640.75C490.42 641.46 493.75 642.42 497.50 643.00C501.25 643.58 505.83 644.00 510.00 644.25C514.17 644.50 518.75 644.67 522.50 644.50C526.25 644.33 529.17 643.79 532.50 643.25C535.83 642.71 539.38 641.88 542.50 641.25C545.62 640.62 548.75 639.71 551.25 639.50C553.75 639.29 554.58 639.62 557.50 640.00C560.42 640.38 566.00 641.33 568.75 641.75C571.50 642.17 573.12 642.38 574.00 642.50" stroke-width="1" stroke-linejoin="round"/>
<path d="M286.00 687.00C287.08 686.79 289.75 686.08 292.50 685.75C295.25 685.42 300.25 685.06 302.50 685.00C304.75 684.94 304.75 685.47 306.00 685.40C307.25 685.33 308.67 684.67 310.00 684.60C311.33 684.53 312.75 685.02 314.00 685.00C315.25 684.98 315.88 684.33 317.50 684.50C319.12 684.67 322.00 685.92 323.75 686.00C325.50 686.08 326.54 685.25 328.00 685.00C329.46 684.75 331.00 684.50 332.50 684.50C334.00 684.50 335.33 685.04 337.00 685.00C338.67 684.96 340.96 684.58 342.50 684.25C344.04 683.92 345.00 682.92 346.25 683.00C347.50 683.08 348.71 684.48 350.00 684.75C351.29 685.02 352.75 684.52 354.00 684.60C355.25 684.68 356.08 684.98 357.50 685.25C358.92 685.52 360.83 686.33 362.50 686.25C364.17 686.17 365.92 684.96 367.50 684.75C369.08 684.54 370.33 685.08 372.00 685.00C373.67 684.92 375.75 684.54 377.50 684.25C379.25 683.96 380.62 683.12 382.50 683.25C384.38 683.38 387.00 684.84 388.75 685.00C390.50 685.16 391.54 684.41 393.00 684.20C394.46 683.99 396.00 683.78 397.50 683.75C399.00 683.72 400.54 684.17 402.00 684.00C403.46 683.83 404.50 682.71 406.25 682.75C408.00 682.79 410.42 683.83 412.50 684.25C414.58 684.67 416.67 685.33 418.75 685.25C420.83 685.17 423.12 683.88 425.00 683.75C426.88 683.62 428.33 684.46 430.00 684.50C431.67 684.54 433.33 684.12 435.00 684.00C436.67 683.88 438.33 683.68 440.00 683.75C441.67 683.82 443.33 684.39 445.00 684.40C446.67 684.41 448.33 683.82 450.00 683.80C451.67 683.77 453.33 684.28 455.00 684.25C456.67 684.22 458.17 683.64 460.00 683.60C461.83 683.56 463.92 684.06 466.00 684.00C468.08 683.94 470.50 683.25 472.50 683.25C474.50 683.25 476.25 683.94 478.00 684.00C479.75 684.06 481.42 683.56 483.00 683.60C484.58 683.64 486.00 684.25 487.50 684.25C489.00 684.25 490.33 683.68 492.00 683.60C493.67 683.52 495.33 684.10 497.50 683.75C499.67 683.40 502.50 682.04 505.00 681.50C507.50 680.96 510.50 680.60 512.50 680.50C514.50 680.40 515.33 680.77 517.00 680.90C518.67 681.02 520.33 680.98 522.50 681.25C524.67 681.52 527.50 681.88 530.00 682.50C532.50 683.12 535.50 684.53 537.50 685.00C539.50 685.47 540.33 685.13 542.00 685.30C543.67 685.47 545.83 685.75 547.50 686.00C549.17 686.25 550.33 686.47 552.00 686.80C553.67 687.13 555.67 687.70 557.50 688.00C559.33 688.30 561.12 688.35 563.00 688.60C564.88 688.85 566.92 689.27 568.75 689.50C570.58 689.73 573.12 689.92 574.00 690.00" stroke-width="1" stroke-linejoin="round"/>
</g>
<g font-family="Liberation Sans, sans-serif" font-size="12.4" fill="#484848">
<text x="282" y="734.80" text-anchor="end">0</text>
<text x="282" y="690.30" text-anchor="end">1</text>
<text x="282" y="641.00" text-anchor="end">2</text>
<text x="282" y="591.70" text-anchor="end">3</text>
<text x="282" y="542.40" text-anchor="end">4</text>
<text x="282" y="493.10" text-anchor="end">5</text>
<text x="285.35" y="755" text-anchor="middle" textLength="27" lengthAdjust="spacing">−330</text>
<text x="333.39" y="755" text-anchor="middle" textLength="27" lengthAdjust="spacing">−320</text>
<text x="381.43" y="755" text-anchor="middle" textLength="27" lengthAdjust="spacing">−310</text>
<text x="429.47" y="755" text-anchor="middle" textLength="27" lengthAdjust="spacing">−300</text>
<text x="477.51" y="755" text-anchor="middle" textLength="27" lengthAdjust="spacing">−290</text>
<text x="525.55" y="755" text-anchor="middle" textLength="27" lengthAdjust="spacing">−280</text>
<text x="573.59" y="755" text-anchor="middle" textLength="27" lengthAdjust="spacing">−270</text>
<text x="429.4" y="772" text-anchor="middle">Longitude (deg)</text>
<text transform="translate(266.9 598.8) rotate(-90)" text-anchor="middle" textLength="112.5" lengthAdjust="spacing">Normalized Flux</text>
<text x="478.8" y="507.5" textLength="38.2" lengthAdjust="spacing">7/23/09</text>
<text x="478.8" y="557.5" textLength="38.2" lengthAdjust="spacing">7/23/09</text>
<text x="478.8" y="605.8" textLength="32.5" lengthAdjust="spacing">8/3/09</text>
<text x="478.8" y="655" textLength="32.5" lengthAdjust="spacing">8/8/09</text>
<text x="478.8" y="705" textLength="32.5" lengthAdjust="spacing">9/9/09</text>
</g>
</svg>
</body></html>
